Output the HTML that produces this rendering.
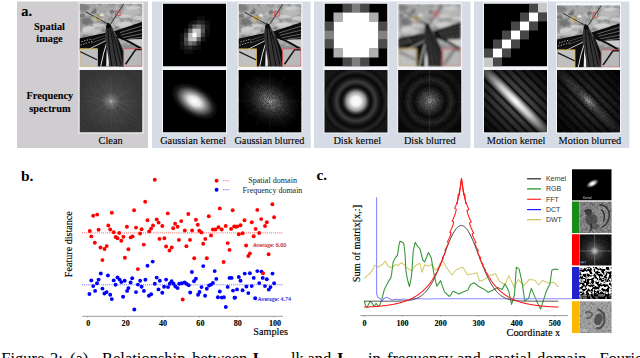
<!DOCTYPE html><html><head><meta charset="utf-8"><style>
html,body{margin:0;padding:0;background:#fff;width:640px;height:358px;overflow:hidden;position:relative}
svg.main{position:absolute;left:0;top:0}
</style></head><body>
<svg class="main" width="640" height="358" viewBox="0 0 640 358"><defs><filter id="noise" x="0" y="0" width="100%" height="100%">
<feTurbulence type="fractalNoise" baseFrequency="1.1" numOctaves="1" seed="4" result="n"/>
<feColorMatrix in="n" type="matrix" values="0 0 0 0 1  0 0 0 0 1  0 0 0 0 1  0 0 0 1.0 -0.35" result="a"/>
<feComposite in="a" in2="SourceGraphic" operator="in"/>
</filter><filter id="dnoise" x="0" y="0" width="100%" height="100%">
<feTurbulence type="fractalNoise" baseFrequency="1.6" numOctaves="1" seed="7" result="n"/>
<feColorMatrix in="n" type="matrix" values="0 0 0 0 0  0 0 0 0 0  0 0 0 0 0  0 0 0 1.1 -0.3"/>
</filter><filter id="blur04"><feGaussianBlur stdDeviation="0.4"/></filter><filter id="blur06"><feGaussianBlur stdDeviation="0.6"/></filter><filter id="blur08"><feGaussianBlur stdDeviation="0.8"/></filter><filter id="blur1"><feGaussianBlur stdDeviation="1.2"/></filter><filter id="tex" x="0" y="0" width="100%" height="100%">
<feTurbulence type="fractalNoise" baseFrequency="0.22" numOctaves="3" seed="9" result="n"/>
<feColorMatrix in="n" type="matrix" values="1.3 0 0 0 -0.12  1.3 0 0 0 -0.12  1.3 0 0 0 -0.12  0 0 0 0 1"/>
<feColorMatrix type="saturate" values="0"/>
</filter><filter id="blurI"><feGaussianBlur stdDeviation="1.3"/></filter><radialGradient id="gClean"><stop offset="0" stop-color="#c0c0c0"/><stop offset="0.07" stop-color="#808080"/><stop offset="0.3" stop-color="#4c4c4c"/><stop offset="1" stop-color="#3a3a3a"/></radialGradient><radialGradient id="gRayM" gradientUnits="userSpaceOnUse" cx="31.5" cy="31.25" r="34"><stop offset="0" stop-color="#fff"/><stop offset="0.5" stop-color="#777"/><stop offset="1" stop-color="#222"/></radialGradient><mask id="mRay" maskUnits="userSpaceOnUse" x="0" y="0" width="63" height="63"><rect width="63" height="63" fill="url(#gRayM)"/></mask><radialGradient id="gEll"><stop offset="0" stop-color="#fff"/><stop offset="0.25" stop-color="#e6e6e6"/><stop offset="0.55" stop-color="#707070"/><stop offset="0.8" stop-color="#1a1a1a"/><stop offset="1" stop-color="#000"/></radialGradient><radialGradient id="gEll2"><stop offset="0" stop-color="#c8c8c8"/><stop offset="0.1" stop-color="#8c8c8c"/><stop offset="0.4" stop-color="#444"/><stop offset="0.7" stop-color="#151515"/><stop offset="1" stop-color="#000"/></radialGradient><radialGradient id="gDisk" gradientUnits="userSpaceOnUse" cx="0" cy="0" r="36"><stop offset="0" stop-color="#fff"/><stop offset="0.13" stop-color="#f2f2f2"/><stop offset="0.26" stop-color="#9a9a9a"/><stop offset="0.35" stop-color="#2a2a2a"/><stop offset="0.41" stop-color="#080808"/><stop offset="0.54" stop-color="#3c3c3c"/><stop offset="0.64" stop-color="#181818"/><stop offset="0.72" stop-color="#080808"/><stop offset="0.83" stop-color="#262626"/><stop offset="0.93" stop-color="#0c0c0c"/><stop offset="1" stop-color="#161616"/></radialGradient><radialGradient id="gDisk2" gradientUnits="userSpaceOnUse" cx="0" cy="0" r="36"><stop offset="0" stop-color="#c8c8c8"/><stop offset="0.06" stop-color="#8a8a8a"/><stop offset="0.2" stop-color="#555"/><stop offset="0.34" stop-color="#2a2a2a"/><stop offset="0.44" stop-color="#0c0c0c"/><stop offset="0.6" stop-color="#303030"/><stop offset="0.74" stop-color="#0c0c0c"/><stop offset="0.88" stop-color="#1c1c1c"/><stop offset="1" stop-color="#0a0a0a"/></radialGradient><linearGradient id="gMot" gradientUnits="userSpaceOnUse" x1="-45" y1="0" x2="45" y2="0"><stop offset="0.0000" stop-color="rgb(22,22,22)"/><stop offset="0.0033" stop-color="rgb(23,23,23)"/><stop offset="0.0067" stop-color="rgb(24,24,24)"/><stop offset="0.0100" stop-color="rgb(25,25,25)"/><stop offset="0.0133" stop-color="rgb(25,25,25)"/><stop offset="0.0167" stop-color="rgb(25,25,25)"/><stop offset="0.0200" stop-color="rgb(24,24,24)"/><stop offset="0.0233" stop-color="rgb(23,23,23)"/><stop offset="0.0267" stop-color="rgb(22,22,22)"/><stop offset="0.0300" stop-color="rgb(20,20,20)"/><stop offset="0.0333" stop-color="rgb(18,18,18)"/><stop offset="0.0367" stop-color="rgb(15,15,15)"/><stop offset="0.0400" stop-color="rgb(11,11,11)"/><stop offset="0.0433" stop-color="rgb(7,7,7)"/><stop offset="0.0467" stop-color="rgb(0,0,0)"/><stop offset="0.0500" stop-color="rgb(7,7,7)"/><stop offset="0.0533" stop-color="rgb(12,12,12)"/><stop offset="0.0567" stop-color="rgb(16,16,16)"/><stop offset="0.0600" stop-color="rgb(20,20,20)"/><stop offset="0.0633" stop-color="rgb(23,23,23)"/><stop offset="0.0667" stop-color="rgb(26,26,26)"/><stop offset="0.0700" stop-color="rgb(29,29,29)"/><stop offset="0.0733" stop-color="rgb(31,31,31)"/><stop offset="0.0767" stop-color="rgb(33,33,33)"/><stop offset="0.0800" stop-color="rgb(34,34,34)"/><stop offset="0.0833" stop-color="rgb(35,35,35)"/><stop offset="0.0867" stop-color="rgb(35,35,35)"/><stop offset="0.0900" stop-color="rgb(35,35,35)"/><stop offset="0.0933" stop-color="rgb(35,35,35)"/><stop offset="0.0967" stop-color="rgb(34,34,34)"/><stop offset="0.1000" stop-color="rgb(32,32,32)"/><stop offset="0.1033" stop-color="rgb(30,30,30)"/><stop offset="0.1067" stop-color="rgb(27,27,27)"/><stop offset="0.1100" stop-color="rgb(23,23,23)"/><stop offset="0.1133" stop-color="rgb(19,19,19)"/><stop offset="0.1167" stop-color="rgb(14,14,14)"/><stop offset="0.1200" stop-color="rgb(7,7,7)"/><stop offset="0.1233" stop-color="rgb(4,4,4)"/><stop offset="0.1267" stop-color="rgb(12,12,12)"/><stop offset="0.1300" stop-color="rgb(18,18,18)"/><stop offset="0.1333" stop-color="rgb(24,24,24)"/><stop offset="0.1367" stop-color="rgb(28,28,28)"/><stop offset="0.1400" stop-color="rgb(33,33,33)"/><stop offset="0.1433" stop-color="rgb(36,36,36)"/><stop offset="0.1467" stop-color="rgb(39,39,39)"/><stop offset="0.1500" stop-color="rgb(42,42,42)"/><stop offset="0.1533" stop-color="rgb(44,44,44)"/><stop offset="0.1567" stop-color="rgb(45,45,45)"/><stop offset="0.1600" stop-color="rgb(46,46,46)"/><stop offset="0.1633" stop-color="rgb(46,46,46)"/><stop offset="0.1667" stop-color="rgb(46,46,46)"/><stop offset="0.1700" stop-color="rgb(45,45,45)"/><stop offset="0.1733" stop-color="rgb(43,43,43)"/><stop offset="0.1767" stop-color="rgb(40,40,40)"/><stop offset="0.1800" stop-color="rgb(37,37,37)"/><stop offset="0.1833" stop-color="rgb(33,33,33)"/><stop offset="0.1867" stop-color="rgb(28,28,28)"/><stop offset="0.1900" stop-color="rgb(22,22,22)"/><stop offset="0.1933" stop-color="rgb(15,15,15)"/><stop offset="0.1967" stop-color="rgb(6,6,6)"/><stop offset="0.2000" stop-color="rgb(9,9,9)"/><stop offset="0.2033" stop-color="rgb(18,18,18)"/><stop offset="0.2067" stop-color="rgb(26,26,26)"/><stop offset="0.2100" stop-color="rgb(32,32,32)"/><stop offset="0.2133" stop-color="rgb(37,37,37)"/><stop offset="0.2167" stop-color="rgb(42,42,42)"/><stop offset="0.2200" stop-color="rgb(47,47,47)"/><stop offset="0.2233" stop-color="rgb(50,50,50)"/><stop offset="0.2267" stop-color="rgb(53,53,53)"/><stop offset="0.2300" stop-color="rgb(55,55,55)"/><stop offset="0.2333" stop-color="rgb(56,56,56)"/><stop offset="0.2367" stop-color="rgb(57,57,57)"/><stop offset="0.2400" stop-color="rgb(57,57,57)"/><stop offset="0.2433" stop-color="rgb(56,56,56)"/><stop offset="0.2467" stop-color="rgb(54,54,54)"/><stop offset="0.2500" stop-color="rgb(51,51,51)"/><stop offset="0.2533" stop-color="rgb(48,48,48)"/><stop offset="0.2567" stop-color="rgb(44,44,44)"/><stop offset="0.2600" stop-color="rgb(38,38,38)"/><stop offset="0.2633" stop-color="rgb(32,32,32)"/><stop offset="0.2667" stop-color="rgb(24,24,24)"/><stop offset="0.2700" stop-color="rgb(15,15,15)"/><stop offset="0.2733" stop-color="rgb(0,0,0)"/><stop offset="0.2767" stop-color="rgb(15,15,15)"/><stop offset="0.2800" stop-color="rgb(25,25,25)"/><stop offset="0.2833" stop-color="rgb(33,33,33)"/><stop offset="0.2867" stop-color="rgb(41,41,41)"/><stop offset="0.2900" stop-color="rgb(47,47,47)"/><stop offset="0.2933" stop-color="rgb(53,53,53)"/><stop offset="0.2967" stop-color="rgb(57,57,57)"/><stop offset="0.3000" stop-color="rgb(61,61,61)"/><stop offset="0.3033" stop-color="rgb(64,64,64)"/><stop offset="0.3067" stop-color="rgb(66,66,66)"/><stop offset="0.3100" stop-color="rgb(67,67,67)"/><stop offset="0.3133" stop-color="rgb(68,68,68)"/><stop offset="0.3167" stop-color="rgb(67,67,67)"/><stop offset="0.3200" stop-color="rgb(66,66,66)"/><stop offset="0.3233" stop-color="rgb(63,63,63)"/><stop offset="0.3267" stop-color="rgb(60,60,60)"/><stop offset="0.3300" stop-color="rgb(55,55,55)"/><stop offset="0.3333" stop-color="rgb(49,49,49)"/><stop offset="0.3367" stop-color="rgb(43,43,43)"/><stop offset="0.3400" stop-color="rgb(35,35,35)"/><stop offset="0.3433" stop-color="rgb(25,25,25)"/><stop offset="0.3467" stop-color="rgb(13,13,13)"/><stop offset="0.3500" stop-color="rgb(8,8,8)"/><stop offset="0.3533" stop-color="rgb(22,22,22)"/><stop offset="0.3567" stop-color="rgb(33,33,33)"/><stop offset="0.3600" stop-color="rgb(42,42,42)"/><stop offset="0.3633" stop-color="rgb(50,50,50)"/><stop offset="0.3667" stop-color="rgb(57,57,57)"/><stop offset="0.3700" stop-color="rgb(63,63,63)"/><stop offset="0.3733" stop-color="rgb(68,68,68)"/><stop offset="0.3767" stop-color="rgb(72,72,72)"/><stop offset="0.3800" stop-color="rgb(75,75,75)"/><stop offset="0.3833" stop-color="rgb(77,77,77)"/><stop offset="0.3867" stop-color="rgb(78,78,78)"/><stop offset="0.3900" stop-color="rgb(78,78,78)"/><stop offset="0.3933" stop-color="rgb(77,77,77)"/><stop offset="0.3967" stop-color="rgb(75,75,75)"/><stop offset="0.4000" stop-color="rgb(72,72,72)"/><stop offset="0.4033" stop-color="rgb(67,67,67)"/><stop offset="0.4067" stop-color="rgb(61,61,61)"/><stop offset="0.4100" stop-color="rgb(55,55,55)"/><stop offset="0.4133" stop-color="rgb(46,46,46)"/><stop offset="0.4167" stop-color="rgb(37,37,37)"/><stop offset="0.4200" stop-color="rgb(25,25,25)"/><stop offset="0.4233" stop-color="rgb(9,9,9)"/><stop offset="0.4267" stop-color="rgb(15,15,15)"/><stop offset="0.4300" stop-color="rgb(34,34,34)"/><stop offset="0.4333" stop-color="rgb(52,52,52)"/><stop offset="0.4367" stop-color="rgb(68,68,68)"/><stop offset="0.4400" stop-color="rgb(85,85,85)"/><stop offset="0.4433" stop-color="rgb(100,100,100)"/><stop offset="0.4467" stop-color="rgb(115,115,115)"/><stop offset="0.4500" stop-color="rgb(130,130,130)"/><stop offset="0.4533" stop-color="rgb(143,143,143)"/><stop offset="0.4567" stop-color="rgb(157,157,157)"/><stop offset="0.4600" stop-color="rgb(169,169,169)"/><stop offset="0.4633" stop-color="rgb(181,181,181)"/><stop offset="0.4667" stop-color="rgb(192,192,192)"/><stop offset="0.4700" stop-color="rgb(202,202,202)"/><stop offset="0.4733" stop-color="rgb(212,212,212)"/><stop offset="0.4767" stop-color="rgb(221,221,221)"/><stop offset="0.4800" stop-color="rgb(229,229,229)"/><stop offset="0.4833" stop-color="rgb(236,236,236)"/><stop offset="0.4867" stop-color="rgb(242,242,242)"/><stop offset="0.4900" stop-color="rgb(247,247,247)"/><stop offset="0.4933" stop-color="rgb(251,251,251)"/><stop offset="0.4967" stop-color="rgb(254,254,254)"/><stop offset="0.5000" stop-color="rgb(255,255,255)"/><stop offset="0.5033" stop-color="rgb(254,254,254)"/><stop offset="0.5067" stop-color="rgb(251,251,251)"/><stop offset="0.5100" stop-color="rgb(247,247,247)"/><stop offset="0.5133" stop-color="rgb(242,242,242)"/><stop offset="0.5167" stop-color="rgb(236,236,236)"/><stop offset="0.5200" stop-color="rgb(229,229,229)"/><stop offset="0.5233" stop-color="rgb(221,221,221)"/><stop offset="0.5267" stop-color="rgb(212,212,212)"/><stop offset="0.5300" stop-color="rgb(202,202,202)"/><stop offset="0.5333" stop-color="rgb(192,192,192)"/><stop offset="0.5367" stop-color="rgb(181,181,181)"/><stop offset="0.5400" stop-color="rgb(169,169,169)"/><stop offset="0.5433" stop-color="rgb(157,157,157)"/><stop offset="0.5467" stop-color="rgb(143,143,143)"/><stop offset="0.5500" stop-color="rgb(130,130,130)"/><stop offset="0.5533" stop-color="rgb(115,115,115)"/><stop offset="0.5567" stop-color="rgb(100,100,100)"/><stop offset="0.5600" stop-color="rgb(85,85,85)"/><stop offset="0.5633" stop-color="rgb(68,68,68)"/><stop offset="0.5667" stop-color="rgb(52,52,52)"/><stop offset="0.5700" stop-color="rgb(34,34,34)"/><stop offset="0.5733" stop-color="rgb(15,15,15)"/><stop offset="0.5767" stop-color="rgb(9,9,9)"/><stop offset="0.5800" stop-color="rgb(25,25,25)"/><stop offset="0.5833" stop-color="rgb(37,37,37)"/><stop offset="0.5867" stop-color="rgb(46,46,46)"/><stop offset="0.5900" stop-color="rgb(55,55,55)"/><stop offset="0.5933" stop-color="rgb(61,61,61)"/><stop offset="0.5967" stop-color="rgb(67,67,67)"/><stop offset="0.6000" stop-color="rgb(72,72,72)"/><stop offset="0.6033" stop-color="rgb(75,75,75)"/><stop offset="0.6067" stop-color="rgb(77,77,77)"/><stop offset="0.6100" stop-color="rgb(78,78,78)"/><stop offset="0.6133" stop-color="rgb(78,78,78)"/><stop offset="0.6167" stop-color="rgb(77,77,77)"/><stop offset="0.6200" stop-color="rgb(75,75,75)"/><stop offset="0.6233" stop-color="rgb(72,72,72)"/><stop offset="0.6267" stop-color="rgb(68,68,68)"/><stop offset="0.6300" stop-color="rgb(63,63,63)"/><stop offset="0.6333" stop-color="rgb(57,57,57)"/><stop offset="0.6367" stop-color="rgb(50,50,50)"/><stop offset="0.6400" stop-color="rgb(42,42,42)"/><stop offset="0.6433" stop-color="rgb(33,33,33)"/><stop offset="0.6467" stop-color="rgb(22,22,22)"/><stop offset="0.6500" stop-color="rgb(8,8,8)"/><stop offset="0.6533" stop-color="rgb(13,13,13)"/><stop offset="0.6567" stop-color="rgb(25,25,25)"/><stop offset="0.6600" stop-color="rgb(35,35,35)"/><stop offset="0.6633" stop-color="rgb(43,43,43)"/><stop offset="0.6667" stop-color="rgb(49,49,49)"/><stop offset="0.6700" stop-color="rgb(55,55,55)"/><stop offset="0.6733" stop-color="rgb(60,60,60)"/><stop offset="0.6767" stop-color="rgb(63,63,63)"/><stop offset="0.6800" stop-color="rgb(66,66,66)"/><stop offset="0.6833" stop-color="rgb(67,67,67)"/><stop offset="0.6867" stop-color="rgb(68,68,68)"/><stop offset="0.6900" stop-color="rgb(67,67,67)"/><stop offset="0.6933" stop-color="rgb(66,66,66)"/><stop offset="0.6967" stop-color="rgb(64,64,64)"/><stop offset="0.7000" stop-color="rgb(61,61,61)"/><stop offset="0.7033" stop-color="rgb(57,57,57)"/><stop offset="0.7067" stop-color="rgb(53,53,53)"/><stop offset="0.7100" stop-color="rgb(47,47,47)"/><stop offset="0.7133" stop-color="rgb(41,41,41)"/><stop offset="0.7167" stop-color="rgb(33,33,33)"/><stop offset="0.7200" stop-color="rgb(25,25,25)"/><stop offset="0.7233" stop-color="rgb(15,15,15)"/><stop offset="0.7267" stop-color="rgb(0,0,0)"/><stop offset="0.7300" stop-color="rgb(15,15,15)"/><stop offset="0.7333" stop-color="rgb(24,24,24)"/><stop offset="0.7367" stop-color="rgb(32,32,32)"/><stop offset="0.7400" stop-color="rgb(38,38,38)"/><stop offset="0.7433" stop-color="rgb(44,44,44)"/><stop offset="0.7467" stop-color="rgb(48,48,48)"/><stop offset="0.7500" stop-color="rgb(51,51,51)"/><stop offset="0.7533" stop-color="rgb(54,54,54)"/><stop offset="0.7567" stop-color="rgb(56,56,56)"/><stop offset="0.7600" stop-color="rgb(57,57,57)"/><stop offset="0.7633" stop-color="rgb(57,57,57)"/><stop offset="0.7667" stop-color="rgb(56,56,56)"/><stop offset="0.7700" stop-color="rgb(55,55,55)"/><stop offset="0.7733" stop-color="rgb(53,53,53)"/><stop offset="0.7767" stop-color="rgb(50,50,50)"/><stop offset="0.7800" stop-color="rgb(47,47,47)"/><stop offset="0.7833" stop-color="rgb(42,42,42)"/><stop offset="0.7867" stop-color="rgb(37,37,37)"/><stop offset="0.7900" stop-color="rgb(32,32,32)"/><stop offset="0.7933" stop-color="rgb(26,26,26)"/><stop offset="0.7967" stop-color="rgb(18,18,18)"/><stop offset="0.8000" stop-color="rgb(9,9,9)"/><stop offset="0.8033" stop-color="rgb(6,6,6)"/><stop offset="0.8067" stop-color="rgb(15,15,15)"/><stop offset="0.8100" stop-color="rgb(22,22,22)"/><stop offset="0.8133" stop-color="rgb(28,28,28)"/><stop offset="0.8167" stop-color="rgb(33,33,33)"/><stop offset="0.8200" stop-color="rgb(37,37,37)"/><stop offset="0.8233" stop-color="rgb(40,40,40)"/><stop offset="0.8267" stop-color="rgb(43,43,43)"/><stop offset="0.8300" stop-color="rgb(45,45,45)"/><stop offset="0.8333" stop-color="rgb(46,46,46)"/><stop offset="0.8367" stop-color="rgb(46,46,46)"/><stop offset="0.8400" stop-color="rgb(46,46,46)"/><stop offset="0.8433" stop-color="rgb(45,45,45)"/><stop offset="0.8467" stop-color="rgb(44,44,44)"/><stop offset="0.8500" stop-color="rgb(42,42,42)"/><stop offset="0.8533" stop-color="rgb(39,39,39)"/><stop offset="0.8567" stop-color="rgb(36,36,36)"/><stop offset="0.8600" stop-color="rgb(33,33,33)"/><stop offset="0.8633" stop-color="rgb(28,28,28)"/><stop offset="0.8667" stop-color="rgb(24,24,24)"/><stop offset="0.8700" stop-color="rgb(18,18,18)"/><stop offset="0.8733" stop-color="rgb(12,12,12)"/><stop offset="0.8767" stop-color="rgb(4,4,4)"/><stop offset="0.8800" stop-color="rgb(7,7,7)"/><stop offset="0.8833" stop-color="rgb(14,14,14)"/><stop offset="0.8867" stop-color="rgb(19,19,19)"/><stop offset="0.8900" stop-color="rgb(23,23,23)"/><stop offset="0.8933" stop-color="rgb(27,27,27)"/><stop offset="0.8967" stop-color="rgb(30,30,30)"/><stop offset="0.9000" stop-color="rgb(32,32,32)"/><stop offset="0.9033" stop-color="rgb(34,34,34)"/><stop offset="0.9067" stop-color="rgb(35,35,35)"/><stop offset="0.9100" stop-color="rgb(35,35,35)"/><stop offset="0.9133" stop-color="rgb(35,35,35)"/><stop offset="0.9167" stop-color="rgb(35,35,35)"/><stop offset="0.9200" stop-color="rgb(34,34,34)"/><stop offset="0.9233" stop-color="rgb(33,33,33)"/><stop offset="0.9267" stop-color="rgb(31,31,31)"/><stop offset="0.9300" stop-color="rgb(29,29,29)"/><stop offset="0.9333" stop-color="rgb(26,26,26)"/><stop offset="0.9367" stop-color="rgb(23,23,23)"/><stop offset="0.9400" stop-color="rgb(20,20,20)"/><stop offset="0.9433" stop-color="rgb(16,16,16)"/><stop offset="0.9467" stop-color="rgb(12,12,12)"/><stop offset="0.9500" stop-color="rgb(7,7,7)"/><stop offset="0.9533" stop-color="rgb(0,0,0)"/><stop offset="0.9567" stop-color="rgb(7,7,7)"/><stop offset="0.9600" stop-color="rgb(11,11,11)"/><stop offset="0.9633" stop-color="rgb(15,15,15)"/><stop offset="0.9667" stop-color="rgb(18,18,18)"/><stop offset="0.9700" stop-color="rgb(20,20,20)"/><stop offset="0.9733" stop-color="rgb(22,22,22)"/><stop offset="0.9767" stop-color="rgb(23,23,23)"/><stop offset="0.9800" stop-color="rgb(24,24,24)"/><stop offset="0.9833" stop-color="rgb(25,25,25)"/><stop offset="0.9867" stop-color="rgb(25,25,25)"/><stop offset="0.9900" stop-color="rgb(25,25,25)"/><stop offset="0.9933" stop-color="rgb(24,24,24)"/><stop offset="0.9967" stop-color="rgb(23,23,23)"/><stop offset="1.0000" stop-color="rgb(22,22,22)"/></linearGradient><radialGradient id="gMask" gradientUnits="userSpaceOnUse" cx="0" cy="0" r="46"><stop offset="0" stop-color="#fff"/><stop offset="0.45" stop-color="#c8c8c8"/><stop offset="1" stop-color="#383838"/></radialGradient><mask id="mMot" maskUnits="userSpaceOnUse" x="-60" y="-60" width="120" height="120"><rect x="-60" y="-60" width="120" height="120" fill="url(#gMask)"/></mask><linearGradient id="gMot2" gradientUnits="userSpaceOnUse" x1="-45" y1="0" x2="45" y2="0"><stop offset="0.0000" stop-color="rgb(16,16,16)"/><stop offset="0.0033" stop-color="rgb(17,17,17)"/><stop offset="0.0067" stop-color="rgb(18,18,18)"/><stop offset="0.0100" stop-color="rgb(18,18,18)"/><stop offset="0.0133" stop-color="rgb(18,18,18)"/><stop offset="0.0167" stop-color="rgb(18,18,18)"/><stop offset="0.0200" stop-color="rgb(18,18,18)"/><stop offset="0.0233" stop-color="rgb(17,17,17)"/><stop offset="0.0267" stop-color="rgb(16,16,16)"/><stop offset="0.0300" stop-color="rgb(15,15,15)"/><stop offset="0.0333" stop-color="rgb(13,13,13)"/><stop offset="0.0367" stop-color="rgb(11,11,11)"/><stop offset="0.0400" stop-color="rgb(8,8,8)"/><stop offset="0.0433" stop-color="rgb(5,5,5)"/><stop offset="0.0467" stop-color="rgb(0,0,0)"/><stop offset="0.0500" stop-color="rgb(5,5,5)"/><stop offset="0.0533" stop-color="rgb(9,9,9)"/><stop offset="0.0567" stop-color="rgb(12,12,12)"/><stop offset="0.0600" stop-color="rgb(15,15,15)"/><stop offset="0.0633" stop-color="rgb(17,17,17)"/><stop offset="0.0667" stop-color="rgb(19,19,19)"/><stop offset="0.0700" stop-color="rgb(21,21,21)"/><stop offset="0.0733" stop-color="rgb(23,23,23)"/><stop offset="0.0767" stop-color="rgb(24,24,24)"/><stop offset="0.0800" stop-color="rgb(25,25,25)"/><stop offset="0.0833" stop-color="rgb(26,26,26)"/><stop offset="0.0867" stop-color="rgb(26,26,26)"/><stop offset="0.0900" stop-color="rgb(26,26,26)"/><stop offset="0.0933" stop-color="rgb(25,25,25)"/><stop offset="0.0967" stop-color="rgb(25,25,25)"/><stop offset="0.1000" stop-color="rgb(23,23,23)"/><stop offset="0.1033" stop-color="rgb(22,22,22)"/><stop offset="0.1067" stop-color="rgb(20,20,20)"/><stop offset="0.1100" stop-color="rgb(17,17,17)"/><stop offset="0.1133" stop-color="rgb(14,14,14)"/><stop offset="0.1167" stop-color="rgb(10,10,10)"/><stop offset="0.1200" stop-color="rgb(5,5,5)"/><stop offset="0.1233" stop-color="rgb(3,3,3)"/><stop offset="0.1267" stop-color="rgb(9,9,9)"/><stop offset="0.1300" stop-color="rgb(13,13,13)"/><stop offset="0.1333" stop-color="rgb(17,17,17)"/><stop offset="0.1367" stop-color="rgb(21,21,21)"/><stop offset="0.1400" stop-color="rgb(24,24,24)"/><stop offset="0.1433" stop-color="rgb(27,27,27)"/><stop offset="0.1467" stop-color="rgb(29,29,29)"/><stop offset="0.1500" stop-color="rgb(31,31,31)"/><stop offset="0.1533" stop-color="rgb(32,32,32)"/><stop offset="0.1567" stop-color="rgb(33,33,33)"/><stop offset="0.1600" stop-color="rgb(34,34,34)"/><stop offset="0.1633" stop-color="rgb(34,34,34)"/><stop offset="0.1667" stop-color="rgb(34,34,34)"/><stop offset="0.1700" stop-color="rgb(33,33,33)"/><stop offset="0.1733" stop-color="rgb(31,31,31)"/><stop offset="0.1767" stop-color="rgb(30,30,30)"/><stop offset="0.1800" stop-color="rgb(27,27,27)"/><stop offset="0.1833" stop-color="rgb(24,24,24)"/><stop offset="0.1867" stop-color="rgb(21,21,21)"/><stop offset="0.1900" stop-color="rgb(16,16,16)"/><stop offset="0.1933" stop-color="rgb(11,11,11)"/><stop offset="0.1967" stop-color="rgb(4,4,4)"/><stop offset="0.2000" stop-color="rgb(7,7,7)"/><stop offset="0.2033" stop-color="rgb(13,13,13)"/><stop offset="0.2067" stop-color="rgb(19,19,19)"/><stop offset="0.2100" stop-color="rgb(23,23,23)"/><stop offset="0.2133" stop-color="rgb(27,27,27)"/><stop offset="0.2167" stop-color="rgb(31,31,31)"/><stop offset="0.2200" stop-color="rgb(34,34,34)"/><stop offset="0.2233" stop-color="rgb(37,37,37)"/><stop offset="0.2267" stop-color="rgb(39,39,39)"/><stop offset="0.2300" stop-color="rgb(40,40,40)"/><stop offset="0.2333" stop-color="rgb(41,41,41)"/><stop offset="0.2367" stop-color="rgb(42,42,42)"/><stop offset="0.2400" stop-color="rgb(42,42,42)"/><stop offset="0.2433" stop-color="rgb(41,41,41)"/><stop offset="0.2467" stop-color="rgb(40,40,40)"/><stop offset="0.2500" stop-color="rgb(38,38,38)"/><stop offset="0.2533" stop-color="rgb(35,35,35)"/><stop offset="0.2567" stop-color="rgb(32,32,32)"/><stop offset="0.2600" stop-color="rgb(28,28,28)"/><stop offset="0.2633" stop-color="rgb(23,23,23)"/><stop offset="0.2667" stop-color="rgb(18,18,18)"/><stop offset="0.2700" stop-color="rgb(11,11,11)"/><stop offset="0.2733" stop-color="rgb(0,0,0)"/><stop offset="0.2767" stop-color="rgb(11,11,11)"/><stop offset="0.2800" stop-color="rgb(18,18,18)"/><stop offset="0.2833" stop-color="rgb(25,25,25)"/><stop offset="0.2867" stop-color="rgb(30,30,30)"/><stop offset="0.2900" stop-color="rgb(35,35,35)"/><stop offset="0.2933" stop-color="rgb(39,39,39)"/><stop offset="0.2967" stop-color="rgb(42,42,42)"/><stop offset="0.3000" stop-color="rgb(45,45,45)"/><stop offset="0.3033" stop-color="rgb(47,47,47)"/><stop offset="0.3067" stop-color="rgb(49,49,49)"/><stop offset="0.3100" stop-color="rgb(50,50,50)"/><stop offset="0.3133" stop-color="rgb(50,50,50)"/><stop offset="0.3167" stop-color="rgb(49,49,49)"/><stop offset="0.3200" stop-color="rgb(48,48,48)"/><stop offset="0.3233" stop-color="rgb(46,46,46)"/><stop offset="0.3267" stop-color="rgb(44,44,44)"/><stop offset="0.3300" stop-color="rgb(40,40,40)"/><stop offset="0.3333" stop-color="rgb(36,36,36)"/><stop offset="0.3367" stop-color="rgb(31,31,31)"/><stop offset="0.3400" stop-color="rgb(26,26,26)"/><stop offset="0.3433" stop-color="rgb(19,19,19)"/><stop offset="0.3467" stop-color="rgb(10,10,10)"/><stop offset="0.3500" stop-color="rgb(6,6,6)"/><stop offset="0.3533" stop-color="rgb(16,16,16)"/><stop offset="0.3567" stop-color="rgb(24,24,24)"/><stop offset="0.3600" stop-color="rgb(31,31,31)"/><stop offset="0.3633" stop-color="rgb(37,37,37)"/><stop offset="0.3667" stop-color="rgb(42,42,42)"/><stop offset="0.3700" stop-color="rgb(46,46,46)"/><stop offset="0.3733" stop-color="rgb(50,50,50)"/><stop offset="0.3767" stop-color="rgb(53,53,53)"/><stop offset="0.3800" stop-color="rgb(55,55,55)"/><stop offset="0.3833" stop-color="rgb(57,57,57)"/><stop offset="0.3867" stop-color="rgb(58,58,58)"/><stop offset="0.3900" stop-color="rgb(58,58,58)"/><stop offset="0.3933" stop-color="rgb(57,57,57)"/><stop offset="0.3967" stop-color="rgb(55,55,55)"/><stop offset="0.4000" stop-color="rgb(53,53,53)"/><stop offset="0.4033" stop-color="rgb(49,49,49)"/><stop offset="0.4067" stop-color="rgb(45,45,45)"/><stop offset="0.4100" stop-color="rgb(40,40,40)"/><stop offset="0.4133" stop-color="rgb(34,34,34)"/><stop offset="0.4167" stop-color="rgb(27,27,27)"/><stop offset="0.4200" stop-color="rgb(18,18,18)"/><stop offset="0.4233" stop-color="rgb(7,7,7)"/><stop offset="0.4267" stop-color="rgb(9,9,9)"/><stop offset="0.4300" stop-color="rgb(19,19,19)"/><stop offset="0.4333" stop-color="rgb(28,28,28)"/><stop offset="0.4367" stop-color="rgb(36,36,36)"/><stop offset="0.4400" stop-color="rgb(43,43,43)"/><stop offset="0.4433" stop-color="rgb(49,49,49)"/><stop offset="0.4467" stop-color="rgb(55,55,55)"/><stop offset="0.4500" stop-color="rgb(60,60,60)"/><stop offset="0.4533" stop-color="rgb(64,64,64)"/><stop offset="0.4567" stop-color="rgb(68,68,68)"/><stop offset="0.4600" stop-color="rgb(72,72,72)"/><stop offset="0.4633" stop-color="rgb(75,75,75)"/><stop offset="0.4667" stop-color="rgb(78,78,78)"/><stop offset="0.4700" stop-color="rgb(80,80,80)"/><stop offset="0.4733" stop-color="rgb(83,83,83)"/><stop offset="0.4767" stop-color="rgb(85,85,85)"/><stop offset="0.4800" stop-color="rgb(87,87,87)"/><stop offset="0.4833" stop-color="rgb(89,89,89)"/><stop offset="0.4867" stop-color="rgb(91,91,91)"/><stop offset="0.4900" stop-color="rgb(92,92,92)"/><stop offset="0.4933" stop-color="rgb(93,93,93)"/><stop offset="0.4967" stop-color="rgb(94,94,94)"/><stop offset="0.5000" stop-color="rgb(95,95,95)"/><stop offset="0.5033" stop-color="rgb(94,94,94)"/><stop offset="0.5067" stop-color="rgb(93,93,93)"/><stop offset="0.5100" stop-color="rgb(92,92,92)"/><stop offset="0.5133" stop-color="rgb(91,91,91)"/><stop offset="0.5167" stop-color="rgb(89,89,89)"/><stop offset="0.5200" stop-color="rgb(87,87,87)"/><stop offset="0.5233" stop-color="rgb(85,85,85)"/><stop offset="0.5267" stop-color="rgb(83,83,83)"/><stop offset="0.5300" stop-color="rgb(80,80,80)"/><stop offset="0.5333" stop-color="rgb(78,78,78)"/><stop offset="0.5367" stop-color="rgb(75,75,75)"/><stop offset="0.5400" stop-color="rgb(72,72,72)"/><stop offset="0.5433" stop-color="rgb(68,68,68)"/><stop offset="0.5467" stop-color="rgb(64,64,64)"/><stop offset="0.5500" stop-color="rgb(60,60,60)"/><stop offset="0.5533" stop-color="rgb(55,55,55)"/><stop offset="0.5567" stop-color="rgb(49,49,49)"/><stop offset="0.5600" stop-color="rgb(43,43,43)"/><stop offset="0.5633" stop-color="rgb(36,36,36)"/><stop offset="0.5667" stop-color="rgb(28,28,28)"/><stop offset="0.5700" stop-color="rgb(19,19,19)"/><stop offset="0.5733" stop-color="rgb(9,9,9)"/><stop offset="0.5767" stop-color="rgb(7,7,7)"/><stop offset="0.5800" stop-color="rgb(18,18,18)"/><stop offset="0.5833" stop-color="rgb(27,27,27)"/><stop offset="0.5867" stop-color="rgb(34,34,34)"/><stop offset="0.5900" stop-color="rgb(40,40,40)"/><stop offset="0.5933" stop-color="rgb(45,45,45)"/><stop offset="0.5967" stop-color="rgb(49,49,49)"/><stop offset="0.6000" stop-color="rgb(53,53,53)"/><stop offset="0.6033" stop-color="rgb(55,55,55)"/><stop offset="0.6067" stop-color="rgb(57,57,57)"/><stop offset="0.6100" stop-color="rgb(58,58,58)"/><stop offset="0.6133" stop-color="rgb(58,58,58)"/><stop offset="0.6167" stop-color="rgb(57,57,57)"/><stop offset="0.6200" stop-color="rgb(55,55,55)"/><stop offset="0.6233" stop-color="rgb(53,53,53)"/><stop offset="0.6267" stop-color="rgb(50,50,50)"/><stop offset="0.6300" stop-color="rgb(46,46,46)"/><stop offset="0.6333" stop-color="rgb(42,42,42)"/><stop offset="0.6367" stop-color="rgb(37,37,37)"/><stop offset="0.6400" stop-color="rgb(31,31,31)"/><stop offset="0.6433" stop-color="rgb(24,24,24)"/><stop offset="0.6467" stop-color="rgb(16,16,16)"/><stop offset="0.6500" stop-color="rgb(6,6,6)"/><stop offset="0.6533" stop-color="rgb(10,10,10)"/><stop offset="0.6567" stop-color="rgb(19,19,19)"/><stop offset="0.6600" stop-color="rgb(26,26,26)"/><stop offset="0.6633" stop-color="rgb(31,31,31)"/><stop offset="0.6667" stop-color="rgb(36,36,36)"/><stop offset="0.6700" stop-color="rgb(40,40,40)"/><stop offset="0.6733" stop-color="rgb(44,44,44)"/><stop offset="0.6767" stop-color="rgb(46,46,46)"/><stop offset="0.6800" stop-color="rgb(48,48,48)"/><stop offset="0.6833" stop-color="rgb(49,49,49)"/><stop offset="0.6867" stop-color="rgb(50,50,50)"/><stop offset="0.6900" stop-color="rgb(50,50,50)"/><stop offset="0.6933" stop-color="rgb(49,49,49)"/><stop offset="0.6967" stop-color="rgb(47,47,47)"/><stop offset="0.7000" stop-color="rgb(45,45,45)"/><stop offset="0.7033" stop-color="rgb(42,42,42)"/><stop offset="0.7067" stop-color="rgb(39,39,39)"/><stop offset="0.7100" stop-color="rgb(35,35,35)"/><stop offset="0.7133" stop-color="rgb(30,30,30)"/><stop offset="0.7167" stop-color="rgb(25,25,25)"/><stop offset="0.7200" stop-color="rgb(18,18,18)"/><stop offset="0.7233" stop-color="rgb(11,11,11)"/><stop offset="0.7267" stop-color="rgb(0,0,0)"/><stop offset="0.7300" stop-color="rgb(11,11,11)"/><stop offset="0.7333" stop-color="rgb(18,18,18)"/><stop offset="0.7367" stop-color="rgb(23,23,23)"/><stop offset="0.7400" stop-color="rgb(28,28,28)"/><stop offset="0.7433" stop-color="rgb(32,32,32)"/><stop offset="0.7467" stop-color="rgb(35,35,35)"/><stop offset="0.7500" stop-color="rgb(38,38,38)"/><stop offset="0.7533" stop-color="rgb(40,40,40)"/><stop offset="0.7567" stop-color="rgb(41,41,41)"/><stop offset="0.7600" stop-color="rgb(42,42,42)"/><stop offset="0.7633" stop-color="rgb(42,42,42)"/><stop offset="0.7667" stop-color="rgb(41,41,41)"/><stop offset="0.7700" stop-color="rgb(40,40,40)"/><stop offset="0.7733" stop-color="rgb(39,39,39)"/><stop offset="0.7767" stop-color="rgb(37,37,37)"/><stop offset="0.7800" stop-color="rgb(34,34,34)"/><stop offset="0.7833" stop-color="rgb(31,31,31)"/><stop offset="0.7867" stop-color="rgb(27,27,27)"/><stop offset="0.7900" stop-color="rgb(23,23,23)"/><stop offset="0.7933" stop-color="rgb(19,19,19)"/><stop offset="0.7967" stop-color="rgb(13,13,13)"/><stop offset="0.8000" stop-color="rgb(7,7,7)"/><stop offset="0.8033" stop-color="rgb(4,4,4)"/><stop offset="0.8067" stop-color="rgb(11,11,11)"/><stop offset="0.8100" stop-color="rgb(16,16,16)"/><stop offset="0.8133" stop-color="rgb(21,21,21)"/><stop offset="0.8167" stop-color="rgb(24,24,24)"/><stop offset="0.8200" stop-color="rgb(27,27,27)"/><stop offset="0.8233" stop-color="rgb(30,30,30)"/><stop offset="0.8267" stop-color="rgb(31,31,31)"/><stop offset="0.8300" stop-color="rgb(33,33,33)"/><stop offset="0.8333" stop-color="rgb(34,34,34)"/><stop offset="0.8367" stop-color="rgb(34,34,34)"/><stop offset="0.8400" stop-color="rgb(34,34,34)"/><stop offset="0.8433" stop-color="rgb(33,33,33)"/><stop offset="0.8467" stop-color="rgb(32,32,32)"/><stop offset="0.8500" stop-color="rgb(31,31,31)"/><stop offset="0.8533" stop-color="rgb(29,29,29)"/><stop offset="0.8567" stop-color="rgb(27,27,27)"/><stop offset="0.8600" stop-color="rgb(24,24,24)"/><stop offset="0.8633" stop-color="rgb(21,21,21)"/><stop offset="0.8667" stop-color="rgb(17,17,17)"/><stop offset="0.8700" stop-color="rgb(13,13,13)"/><stop offset="0.8733" stop-color="rgb(9,9,9)"/><stop offset="0.8767" stop-color="rgb(3,3,3)"/><stop offset="0.8800" stop-color="rgb(5,5,5)"/><stop offset="0.8833" stop-color="rgb(10,10,10)"/><stop offset="0.8867" stop-color="rgb(14,14,14)"/><stop offset="0.8900" stop-color="rgb(17,17,17)"/><stop offset="0.8933" stop-color="rgb(20,20,20)"/><stop offset="0.8967" stop-color="rgb(22,22,22)"/><stop offset="0.9000" stop-color="rgb(23,23,23)"/><stop offset="0.9033" stop-color="rgb(25,25,25)"/><stop offset="0.9067" stop-color="rgb(25,25,25)"/><stop offset="0.9100" stop-color="rgb(26,26,26)"/><stop offset="0.9133" stop-color="rgb(26,26,26)"/><stop offset="0.9167" stop-color="rgb(26,26,26)"/><stop offset="0.9200" stop-color="rgb(25,25,25)"/><stop offset="0.9233" stop-color="rgb(24,24,24)"/><stop offset="0.9267" stop-color="rgb(23,23,23)"/><stop offset="0.9300" stop-color="rgb(21,21,21)"/><stop offset="0.9333" stop-color="rgb(19,19,19)"/><stop offset="0.9367" stop-color="rgb(17,17,17)"/><stop offset="0.9400" stop-color="rgb(15,15,15)"/><stop offset="0.9433" stop-color="rgb(12,12,12)"/><stop offset="0.9467" stop-color="rgb(9,9,9)"/><stop offset="0.9500" stop-color="rgb(5,5,5)"/><stop offset="0.9533" stop-color="rgb(0,0,0)"/><stop offset="0.9567" stop-color="rgb(5,5,5)"/><stop offset="0.9600" stop-color="rgb(8,8,8)"/><stop offset="0.9633" stop-color="rgb(11,11,11)"/><stop offset="0.9667" stop-color="rgb(13,13,13)"/><stop offset="0.9700" stop-color="rgb(15,15,15)"/><stop offset="0.9733" stop-color="rgb(16,16,16)"/><stop offset="0.9767" stop-color="rgb(17,17,17)"/><stop offset="0.9800" stop-color="rgb(18,18,18)"/><stop offset="0.9833" stop-color="rgb(18,18,18)"/><stop offset="0.9867" stop-color="rgb(18,18,18)"/><stop offset="0.9900" stop-color="rgb(18,18,18)"/><stop offset="0.9933" stop-color="rgb(18,18,18)"/><stop offset="0.9967" stop-color="rgb(17,17,17)"/><stop offset="1.0000" stop-color="rgb(16,16,16)"/></linearGradient><radialGradient id="gMC"><stop offset="0" stop-color="#c8c8c8" stop-opacity="0.9"/><stop offset="1" stop-color="#000" stop-opacity="0"/></radialGradient><radialGradient id="gK"><stop offset="0" stop-color="#fff"/><stop offset="0.3" stop-color="#ddd"/><stop offset="0.7" stop-color="#333"/><stop offset="1" stop-color="#000" stop-opacity="0"/></radialGradient><filter id="sqtex" x="0" y="0" width="100%" height="100%">
<feTurbulence type="fractalNoise" baseFrequency="0.45" numOctaves="2" seed="21" result="n"/>
<feColorMatrix in="n" type="matrix" values="1.6 0 0 0 -0.3  1.6 0 0 0 -0.3  1.6 0 0 0 -0.3  0 0 0 0 1"/>
<feColorMatrix type="saturate" values="0"/>
</filter>
<filter id="dcttex" x="0" y="0" width="100%" height="100%">
<feTurbulence type="fractalNoise" baseFrequency="0.4" numOctaves="2" seed="5" result="n"/>
<feColorMatrix in="n" type="matrix" values="5 0 0 0 -2.3  5 0 0 0 -2.3  5 0 0 0 -2.3  0 0 0 0 1"/>
<feColorMatrix type="saturate" values="0"/>
</filter><radialGradient id="gF" gradientUnits="userSpaceOnUse" cx="15.3" cy="16.8" r="18"><stop offset="0" stop-color="#fff"/><stop offset="0.06" stop-color="#bbb"/><stop offset="0.25" stop-color="#4a4a4a"/><stop offset="0.6" stop-color="#1a1a1a"/><stop offset="1" stop-color="#080808"/></radialGradient></defs><rect x="17" y="1.5" width="131" height="146.5" fill="#cfcdcf"/><rect x="152" y="1.5" width="158.7" height="146.5" fill="#d5dce6"/><rect x="314" y="1.5" width="156.5" height="146.5" fill="#d5dce6"/><rect x="474" y="1.5" width="155.29999999999995" height="146.5" fill="#d5dce6"/><rect x="78.5" y="2.5" width="65" height="131.0" fill="#f2f4f7"/><rect x="162" y="2.5" width="65" height="131.0" fill="#f2f4f7"/><rect x="237.5" y="2.5" width="65" height="131.0" fill="#f2f4f7"/><rect x="323.5" y="2.5" width="65" height="131.0" fill="#f2f4f7"/><rect x="397.2" y="2.5" width="65" height="131.0" fill="#f2f4f7"/><rect x="483" y="2.5" width="65" height="131.0" fill="#f2f4f7"/><rect x="556" y="2.5" width="65" height="131.0" fill="#f2f4f7"/><svg x="79.5" y="3.5" width="63" height="63.2" viewBox="0 0 63 63.2" overflow="hidden"><g><svg x="0" y="0" width="63" height="63.2" viewBox="0 0 64 64" preserveAspectRatio="none">
<rect width="64" height="64" fill="#8e8e8e"/>
<rect width="64" height="42" filter="url(#tex)" opacity="0.45"/>
<g filter="url(#blur1)" opacity="0.9">
<ellipse cx="7" cy="18" rx="6" ry="4" fill="#707070"/>
<ellipse cx="4" cy="4" rx="6" ry="4" fill="#7a7a7a"/>
<ellipse cx="52" cy="9" rx="9" ry="6" fill="#bcbcbc"/>
<ellipse cx="25" cy="5" rx="7" ry="4" fill="#a8a8a8"/>
<ellipse cx="12" cy="28" rx="9" ry="3" fill="#c8c8c8"/>
<ellipse cx="48" cy="22" rx="8" ry="3" fill="#d0d0d0"/>
<ellipse cx="58" cy="28" rx="5" ry="2" fill="#6a6a6a"/>
<ellipse cx="38" cy="18" rx="4" ry="3" fill="#c0c0c0"/>
</g>
<g fill="#d4d4d4" opacity="0.75" filter="url(#blur06)">
<path d="M2,26 Q8,21 16,24 Q12,28 4,29 Z"/>
<path d="M14,21 Q20,18 26,22 Q21,24 15,24 Z"/>
<path d="M40,13 Q46,9 53,13 Q48,15 42,15 Z"/>
<path d="M47,4 Q54,1 62,4 Q56,7 49,6 Z"/>
<path d="M36,21 Q44,17 53,20 Q46,23 38,23 Z"/>
<path d="M55,14 Q60,11 64,13 L64,17 Q59,17 55,16 Z"/>
</g>
<g fill="#5a5a5a" opacity="0.6" filter="url(#blur06)">
<ellipse cx="3" cy="12" rx="3" ry="2"/>
<ellipse cx="14" cy="9" rx="3" ry="1.5"/>
<ellipse cx="33" cy="8" rx="2.5" ry="2"/>
<ellipse cx="58" cy="22" rx="4" ry="1.5"/>
</g>
<line x1="6.2" y1="8.4" x2="28.5" y2="20.5" stroke="#1a1a1a" stroke-width="0.8"/>
<line x1="44.9" y1="0.4" x2="31.5" y2="21" stroke="#1a1a1a" stroke-width="0.8"/>
<ellipse cx="22.7" cy="11.6" rx="2" ry="1.3" fill="#eee" opacity="0.8"/>
<rect x="15.8" y="12.6" width="5" height="4.2" rx="1.2" fill="none" stroke="#d8a828" stroke-width="0.8"/>
<rect x="36.6" y="7.7" width="4.6" height="4.6" fill="none" stroke="#e04848" stroke-width="0.8"/>
<polygon points="35,28 63.5,18.8 63.5,36 43,36.5 38,33" fill="#0a0a0a"/>
<g stroke="#c4c4c4" stroke-width="0.5">
<line x1="41" y1="29.5" x2="64" y2="22.5"/>
<line x1="42" y1="32" x2="64" y2="26.5"/>
<line x1="44" y1="34.5" x2="64" y2="30.5"/>
<line x1="50" y1="35.8" x2="64" y2="34"/>
</g>
<polygon points="44,37 63.5,36.2 63.5,43.5 57,42" fill="#cdcdcd"/>
<path d="M38,33.5 Q50,37.5 62,45.5" fill="none" stroke="#0a0a0a" stroke-width="2"/>
<polygon points="-1,47 25,37 30,36 30.7,64 18.3,64 18.3,45.8" fill="#0c0c0c"/>
<polygon points="-1,35.5 27,29.5 29.5,33.5 25,37.5 -1,47" fill="#0a0a0a"/>
<g stroke="#d8d8d8" stroke-width="0.8" stroke-dasharray="1.4,1.4">
<line x1="1" y1="42" x2="13" y2="38.5"/>
<line x1="2" y1="38.8" x2="12" y2="35.8"/>
</g>
<g stroke="#9a9a9a" stroke-width="0.45">
<line x1="12" y1="37" x2="27" y2="32"/>
<line x1="12" y1="40" x2="26" y2="35"/>
</g>
<line x1="10" y1="46" x2="27" y2="37.5" stroke="#e0e0e0" stroke-width="0.9"/>
<path d="M28.5,37 Q24,50 21.5,64" stroke="#e8e8e8" stroke-width="1" fill="none"/>
<path d="M29.5,38 Q28.5,52 28.4,64" stroke="#eaeaea" stroke-width="2.6" fill="none"/>
<path d="M36,30 Q41,38 45,50 L45,64 L40,64 Z" fill="#0e0e0e"/>
<path d="M28.5,20 C26.5,24 25.5,30 26.5,38 L30.8,64 L44.9,64 C42,50 38.5,36 34.5,27 C33,23.5 31,20.5 28.5,20 Z" fill="#363636"/>
<g stroke="#070707" stroke-width="0.9" fill="none">
<path d="M29,23 Q29,40 33,64"/>
<path d="M31,24 Q34,40 38,64"/>
<path d="M33,28 Q38,42 42,62"/>
</g>
<path d="M27,23 L28.8,19.3 L31.5,21 L32.5,24.5 L27.5,25 Z" fill="#080808"/>
<g>
<rect x="0.4" y="45.8" width="17.9" height="17.7" fill="#c0c0c0"/>
<line x1="0.4" y1="48.6" x2="18.3" y2="57.2" stroke="#151515" stroke-width="1.3"/>
</g>
<rect x="0.4" y="45.8" width="17.9" height="17.7" fill="none" stroke="#dcb040" stroke-width="0.8"/>
<g>
<rect x="44.9" y="45.8" width="18.6" height="17.7" fill="#b8b8b8"/>
<polyline points="46.8,61.5 57,46.6 63.5,46.6" fill="none" stroke="#151515" stroke-width="1.6"/>
</g>
<rect x="44.9" y="45.8" width="18.6" height="17.7" fill="none" stroke="#e05050" stroke-width="0.8"/>
</svg></g></svg><svg x="238.5" y="4.1" width="63" height="62.6" viewBox="0 0 63 62.6" overflow="hidden"><g filter="url(#blur04)"><svg x="0" y="0" width="63" height="62.6" viewBox="0 0 64 64" preserveAspectRatio="none">
<rect width="64" height="64" fill="#8e8e8e"/>
<rect width="64" height="42" filter="url(#tex)" opacity="0.45"/>
<g filter="url(#blur1)" opacity="0.9">
<ellipse cx="7" cy="18" rx="6" ry="4" fill="#707070"/>
<ellipse cx="4" cy="4" rx="6" ry="4" fill="#7a7a7a"/>
<ellipse cx="52" cy="9" rx="9" ry="6" fill="#bcbcbc"/>
<ellipse cx="25" cy="5" rx="7" ry="4" fill="#a8a8a8"/>
<ellipse cx="12" cy="28" rx="9" ry="3" fill="#c8c8c8"/>
<ellipse cx="48" cy="22" rx="8" ry="3" fill="#d0d0d0"/>
<ellipse cx="58" cy="28" rx="5" ry="2" fill="#6a6a6a"/>
<ellipse cx="38" cy="18" rx="4" ry="3" fill="#c0c0c0"/>
</g>
<g fill="#d4d4d4" opacity="0.75" filter="url(#blur06)">
<path d="M2,26 Q8,21 16,24 Q12,28 4,29 Z"/>
<path d="M14,21 Q20,18 26,22 Q21,24 15,24 Z"/>
<path d="M40,13 Q46,9 53,13 Q48,15 42,15 Z"/>
<path d="M47,4 Q54,1 62,4 Q56,7 49,6 Z"/>
<path d="M36,21 Q44,17 53,20 Q46,23 38,23 Z"/>
<path d="M55,14 Q60,11 64,13 L64,17 Q59,17 55,16 Z"/>
</g>
<g fill="#5a5a5a" opacity="0.6" filter="url(#blur06)">
<ellipse cx="3" cy="12" rx="3" ry="2"/>
<ellipse cx="14" cy="9" rx="3" ry="1.5"/>
<ellipse cx="33" cy="8" rx="2.5" ry="2"/>
<ellipse cx="58" cy="22" rx="4" ry="1.5"/>
</g>
<line x1="6.2" y1="8.4" x2="28.5" y2="20.5" stroke="#1a1a1a" stroke-width="0.8"/>
<line x1="44.9" y1="0.4" x2="31.5" y2="21" stroke="#1a1a1a" stroke-width="0.8"/>
<ellipse cx="22.7" cy="11.6" rx="2" ry="1.3" fill="#eee" opacity="0.8"/>
<rect x="15.8" y="12.6" width="5" height="4.2" rx="1.2" fill="none" stroke="#d8a828" stroke-width="0.8"/>
<rect x="36.6" y="7.7" width="4.6" height="4.6" fill="none" stroke="#e04848" stroke-width="0.8"/>
<polygon points="35,28 63.5,18.8 63.5,36 43,36.5 38,33" fill="#0a0a0a"/>
<g stroke="#c4c4c4" stroke-width="0.5">
<line x1="41" y1="29.5" x2="64" y2="22.5"/>
<line x1="42" y1="32" x2="64" y2="26.5"/>
<line x1="44" y1="34.5" x2="64" y2="30.5"/>
<line x1="50" y1="35.8" x2="64" y2="34"/>
</g>
<polygon points="44,37 63.5,36.2 63.5,43.5 57,42" fill="#cdcdcd"/>
<path d="M38,33.5 Q50,37.5 62,45.5" fill="none" stroke="#0a0a0a" stroke-width="2"/>
<polygon points="-1,47 25,37 30,36 30.7,64 18.3,64 18.3,45.8" fill="#0c0c0c"/>
<polygon points="-1,35.5 27,29.5 29.5,33.5 25,37.5 -1,47" fill="#0a0a0a"/>
<g stroke="#d8d8d8" stroke-width="0.8" stroke-dasharray="1.4,1.4">
<line x1="1" y1="42" x2="13" y2="38.5"/>
<line x1="2" y1="38.8" x2="12" y2="35.8"/>
</g>
<g stroke="#9a9a9a" stroke-width="0.45">
<line x1="12" y1="37" x2="27" y2="32"/>
<line x1="12" y1="40" x2="26" y2="35"/>
</g>
<line x1="10" y1="46" x2="27" y2="37.5" stroke="#e0e0e0" stroke-width="0.9"/>
<path d="M28.5,37 Q24,50 21.5,64" stroke="#e8e8e8" stroke-width="1" fill="none"/>
<path d="M29.5,38 Q28.5,52 28.4,64" stroke="#eaeaea" stroke-width="2.6" fill="none"/>
<path d="M36,30 Q41,38 45,50 L45,64 L40,64 Z" fill="#0e0e0e"/>
<path d="M28.5,20 C26.5,24 25.5,30 26.5,38 L30.8,64 L44.9,64 C42,50 38.5,36 34.5,27 C33,23.5 31,20.5 28.5,20 Z" fill="#363636"/>
<g stroke="#070707" stroke-width="0.9" fill="none">
<path d="M29,23 Q29,40 33,64"/>
<path d="M31,24 Q34,40 38,64"/>
<path d="M33,28 Q38,42 42,62"/>
</g>
<path d="M27,23 L28.8,19.3 L31.5,21 L32.5,24.5 L27.5,25 Z" fill="#080808"/>
<g filter="url(#blur04)">
<rect x="0.4" y="45.8" width="17.9" height="17.7" fill="#c0c0c0"/>
<line x1="0.4" y1="48.6" x2="18.3" y2="57.2" stroke="#151515" stroke-width="1.3"/>
</g>
<rect x="0.4" y="45.8" width="17.9" height="17.7" fill="none" stroke="#dcb040" stroke-width="0.8"/>
<g filter="url(#blur04)">
<rect x="44.9" y="45.8" width="18.6" height="17.7" fill="#b8b8b8"/>
<polyline points="46.8,61.5 57,46.6 63.5,46.6" fill="none" stroke="#151515" stroke-width="1.6"/>
</g>
<rect x="44.9" y="45.8" width="18.6" height="17.7" fill="none" stroke="#e05050" stroke-width="0.8"/>
</svg></g></svg><svg x="398.2" y="3.8" width="63" height="62.9" viewBox="0 0 63 62.9" overflow="hidden"><g filter="url(#blur08)"><svg x="0" y="0" width="63" height="62.9" viewBox="0 0 64 64" preserveAspectRatio="none">
<rect width="64" height="64" fill="#8e8e8e"/>
<rect width="64" height="42" filter="url(#tex)" opacity="0.45"/>
<g filter="url(#blur1)" opacity="0.9">
<ellipse cx="7" cy="18" rx="6" ry="4" fill="#707070"/>
<ellipse cx="4" cy="4" rx="6" ry="4" fill="#7a7a7a"/>
<ellipse cx="52" cy="9" rx="9" ry="6" fill="#bcbcbc"/>
<ellipse cx="25" cy="5" rx="7" ry="4" fill="#a8a8a8"/>
<ellipse cx="12" cy="28" rx="9" ry="3" fill="#c8c8c8"/>
<ellipse cx="48" cy="22" rx="8" ry="3" fill="#d0d0d0"/>
<ellipse cx="58" cy="28" rx="5" ry="2" fill="#6a6a6a"/>
<ellipse cx="38" cy="18" rx="4" ry="3" fill="#c0c0c0"/>
</g>
<g fill="#d4d4d4" opacity="0.75" filter="url(#blur06)">
<path d="M2,26 Q8,21 16,24 Q12,28 4,29 Z"/>
<path d="M14,21 Q20,18 26,22 Q21,24 15,24 Z"/>
<path d="M40,13 Q46,9 53,13 Q48,15 42,15 Z"/>
<path d="M47,4 Q54,1 62,4 Q56,7 49,6 Z"/>
<path d="M36,21 Q44,17 53,20 Q46,23 38,23 Z"/>
<path d="M55,14 Q60,11 64,13 L64,17 Q59,17 55,16 Z"/>
</g>
<g fill="#5a5a5a" opacity="0.6" filter="url(#blur06)">
<ellipse cx="3" cy="12" rx="3" ry="2"/>
<ellipse cx="14" cy="9" rx="3" ry="1.5"/>
<ellipse cx="33" cy="8" rx="2.5" ry="2"/>
<ellipse cx="58" cy="22" rx="4" ry="1.5"/>
</g>
<line x1="6.2" y1="8.4" x2="28.5" y2="20.5" stroke="#1a1a1a" stroke-width="0.8"/>
<line x1="44.9" y1="0.4" x2="31.5" y2="21" stroke="#1a1a1a" stroke-width="0.8"/>
<ellipse cx="22.7" cy="11.6" rx="2" ry="1.3" fill="#eee" opacity="0.8"/>
<rect x="15.8" y="12.6" width="5" height="4.2" rx="1.2" fill="none" stroke="#d8a828" stroke-width="0.8"/>
<rect x="36.6" y="7.7" width="4.6" height="4.6" fill="none" stroke="#e04848" stroke-width="0.8"/>
<polygon points="35,28 63.5,18.8 63.5,36 43,36.5 38,33" fill="#0a0a0a"/>
<g stroke="#c4c4c4" stroke-width="0.5">
<line x1="41" y1="29.5" x2="64" y2="22.5"/>
<line x1="42" y1="32" x2="64" y2="26.5"/>
<line x1="44" y1="34.5" x2="64" y2="30.5"/>
<line x1="50" y1="35.8" x2="64" y2="34"/>
</g>
<polygon points="44,37 63.5,36.2 63.5,43.5 57,42" fill="#cdcdcd"/>
<path d="M38,33.5 Q50,37.5 62,45.5" fill="none" stroke="#0a0a0a" stroke-width="2"/>
<polygon points="-1,47 25,37 30,36 30.7,64 18.3,64 18.3,45.8" fill="#0c0c0c"/>
<polygon points="-1,35.5 27,29.5 29.5,33.5 25,37.5 -1,47" fill="#0a0a0a"/>
<g stroke="#d8d8d8" stroke-width="0.8" stroke-dasharray="1.4,1.4">
<line x1="1" y1="42" x2="13" y2="38.5"/>
<line x1="2" y1="38.8" x2="12" y2="35.8"/>
</g>
<g stroke="#9a9a9a" stroke-width="0.45">
<line x1="12" y1="37" x2="27" y2="32"/>
<line x1="12" y1="40" x2="26" y2="35"/>
</g>
<line x1="10" y1="46" x2="27" y2="37.5" stroke="#e0e0e0" stroke-width="0.9"/>
<path d="M28.5,37 Q24,50 21.5,64" stroke="#e8e8e8" stroke-width="1" fill="none"/>
<path d="M29.5,38 Q28.5,52 28.4,64" stroke="#eaeaea" stroke-width="2.6" fill="none"/>
<path d="M36,30 Q41,38 45,50 L45,64 L40,64 Z" fill="#0e0e0e"/>
<path d="M28.5,20 C26.5,24 25.5,30 26.5,38 L30.8,64 L44.9,64 C42,50 38.5,36 34.5,27 C33,23.5 31,20.5 28.5,20 Z" fill="#363636"/>
<g stroke="#070707" stroke-width="0.9" fill="none">
<path d="M29,23 Q29,40 33,64"/>
<path d="M31,24 Q34,40 38,64"/>
<path d="M33,28 Q38,42 42,62"/>
</g>
<path d="M27,23 L28.8,19.3 L31.5,21 L32.5,24.5 L27.5,25 Z" fill="#080808"/>
<g filter="url(#blurI)">
<rect x="0.4" y="45.8" width="17.9" height="17.7" fill="#c0c0c0"/>
<line x1="0.4" y1="48.6" x2="18.3" y2="57.2" stroke="#151515" stroke-width="1.3"/>
</g>
<rect x="0.4" y="45.8" width="17.9" height="17.7" fill="none" stroke="#dcb040" stroke-width="0.8"/>
<g filter="url(#blurI)">
<rect x="44.9" y="45.8" width="18.6" height="17.7" fill="#b8b8b8"/>
<polyline points="46.8,61.5 57,46.6 63.5,46.6" fill="none" stroke="#151515" stroke-width="1.6"/>
</g>
<rect x="44.9" y="45.8" width="18.6" height="17.7" fill="none" stroke="#e05050" stroke-width="0.8"/>
</svg></g></svg><svg x="557" y="5.2" width="63" height="62.4" viewBox="0 0 63 62.4" overflow="hidden"><g filter="url(#blur06)"><svg x="0" y="0" width="63" height="62.4" viewBox="0 0 64 64" preserveAspectRatio="none">
<rect width="64" height="64" fill="#8e8e8e"/>
<rect width="64" height="42" filter="url(#tex)" opacity="0.45"/>
<g filter="url(#blur1)" opacity="0.9">
<ellipse cx="7" cy="18" rx="6" ry="4" fill="#707070"/>
<ellipse cx="4" cy="4" rx="6" ry="4" fill="#7a7a7a"/>
<ellipse cx="52" cy="9" rx="9" ry="6" fill="#bcbcbc"/>
<ellipse cx="25" cy="5" rx="7" ry="4" fill="#a8a8a8"/>
<ellipse cx="12" cy="28" rx="9" ry="3" fill="#c8c8c8"/>
<ellipse cx="48" cy="22" rx="8" ry="3" fill="#d0d0d0"/>
<ellipse cx="58" cy="28" rx="5" ry="2" fill="#6a6a6a"/>
<ellipse cx="38" cy="18" rx="4" ry="3" fill="#c0c0c0"/>
</g>
<g fill="#d4d4d4" opacity="0.75" filter="url(#blur06)">
<path d="M2,26 Q8,21 16,24 Q12,28 4,29 Z"/>
<path d="M14,21 Q20,18 26,22 Q21,24 15,24 Z"/>
<path d="M40,13 Q46,9 53,13 Q48,15 42,15 Z"/>
<path d="M47,4 Q54,1 62,4 Q56,7 49,6 Z"/>
<path d="M36,21 Q44,17 53,20 Q46,23 38,23 Z"/>
<path d="M55,14 Q60,11 64,13 L64,17 Q59,17 55,16 Z"/>
</g>
<g fill="#5a5a5a" opacity="0.6" filter="url(#blur06)">
<ellipse cx="3" cy="12" rx="3" ry="2"/>
<ellipse cx="14" cy="9" rx="3" ry="1.5"/>
<ellipse cx="33" cy="8" rx="2.5" ry="2"/>
<ellipse cx="58" cy="22" rx="4" ry="1.5"/>
</g>
<line x1="6.2" y1="8.4" x2="28.5" y2="20.5" stroke="#1a1a1a" stroke-width="0.8"/>
<line x1="44.9" y1="0.4" x2="31.5" y2="21" stroke="#1a1a1a" stroke-width="0.8"/>
<ellipse cx="22.7" cy="11.6" rx="2" ry="1.3" fill="#eee" opacity="0.8"/>
<rect x="15.8" y="12.6" width="5" height="4.2" rx="1.2" fill="none" stroke="#d8a828" stroke-width="0.8"/>
<rect x="36.6" y="7.7" width="4.6" height="4.6" fill="none" stroke="#e04848" stroke-width="0.8"/>
<polygon points="35,28 63.5,18.8 63.5,36 43,36.5 38,33" fill="#0a0a0a"/>
<g stroke="#c4c4c4" stroke-width="0.5">
<line x1="41" y1="29.5" x2="64" y2="22.5"/>
<line x1="42" y1="32" x2="64" y2="26.5"/>
<line x1="44" y1="34.5" x2="64" y2="30.5"/>
<line x1="50" y1="35.8" x2="64" y2="34"/>
</g>
<polygon points="44,37 63.5,36.2 63.5,43.5 57,42" fill="#cdcdcd"/>
<path d="M38,33.5 Q50,37.5 62,45.5" fill="none" stroke="#0a0a0a" stroke-width="2"/>
<polygon points="-1,47 25,37 30,36 30.7,64 18.3,64 18.3,45.8" fill="#0c0c0c"/>
<polygon points="-1,35.5 27,29.5 29.5,33.5 25,37.5 -1,47" fill="#0a0a0a"/>
<g stroke="#d8d8d8" stroke-width="0.8" stroke-dasharray="1.4,1.4">
<line x1="1" y1="42" x2="13" y2="38.5"/>
<line x1="2" y1="38.8" x2="12" y2="35.8"/>
</g>
<g stroke="#9a9a9a" stroke-width="0.45">
<line x1="12" y1="37" x2="27" y2="32"/>
<line x1="12" y1="40" x2="26" y2="35"/>
</g>
<line x1="10" y1="46" x2="27" y2="37.5" stroke="#e0e0e0" stroke-width="0.9"/>
<path d="M28.5,37 Q24,50 21.5,64" stroke="#e8e8e8" stroke-width="1" fill="none"/>
<path d="M29.5,38 Q28.5,52 28.4,64" stroke="#eaeaea" stroke-width="2.6" fill="none"/>
<path d="M36,30 Q41,38 45,50 L45,64 L40,64 Z" fill="#0e0e0e"/>
<path d="M28.5,20 C26.5,24 25.5,30 26.5,38 L30.8,64 L44.9,64 C42,50 38.5,36 34.5,27 C33,23.5 31,20.5 28.5,20 Z" fill="#363636"/>
<g stroke="#070707" stroke-width="0.9" fill="none">
<path d="M29,23 Q29,40 33,64"/>
<path d="M31,24 Q34,40 38,64"/>
<path d="M33,28 Q38,42 42,62"/>
</g>
<path d="M27,23 L28.8,19.3 L31.5,21 L32.5,24.5 L27.5,25 Z" fill="#080808"/>
<g filter="url(#blur06)">
<rect x="0.4" y="45.8" width="17.9" height="17.7" fill="#c0c0c0"/>
<line x1="0.4" y1="48.6" x2="18.3" y2="57.2" stroke="#151515" stroke-width="1.3"/>
</g>
<rect x="0.4" y="45.8" width="17.9" height="17.7" fill="none" stroke="#dcb040" stroke-width="0.8"/>
<g filter="url(#blur06)">
<rect x="44.9" y="45.8" width="18.6" height="17.7" fill="#b8b8b8"/>
<polyline points="46.8,61.5 57,46.6 63.5,46.6" fill="none" stroke="#151515" stroke-width="1.6"/>
</g>
<rect x="44.9" y="45.8" width="18.6" height="17.7" fill="none" stroke="#e05050" stroke-width="0.8"/>
</svg></g></svg><svg x="163" y="3.5" width="63" height="63" viewBox="0 0 63 63" overflow="hidden"><g filter="url(#blur04)"><rect width="63" height="63" fill="#000"/><rect x="33.60" y="12.60" width="4.70" height="4.70" fill="rgb(8,8,8)"/><rect x="37.80" y="12.60" width="4.70" height="4.70" fill="rgb(9,9,9)"/><rect x="42.00" y="12.60" width="4.70" height="4.70" fill="rgb(4,4,4)"/><rect x="25.20" y="16.80" width="4.70" height="4.70" fill="rgb(7,7,7)"/><rect x="29.40" y="16.80" width="4.70" height="4.70" fill="rgb(25,25,25)"/><rect x="33.60" y="16.80" width="4.70" height="4.70" fill="rgb(42,42,42)"/><rect x="37.80" y="16.80" width="4.70" height="4.70" fill="rgb(33,33,33)"/><rect x="42.00" y="16.80" width="4.70" height="4.70" fill="rgb(12,12,12)"/><rect x="21.00" y="21.00" width="4.70" height="4.70" fill="rgb(6,6,6)"/><rect x="25.20" y="21.00" width="4.70" height="4.70" fill="rgb(35,35,35)"/><rect x="29.40" y="21.00" width="4.70" height="4.70" fill="rgb(93,93,93)"/><rect x="33.60" y="21.00" width="4.70" height="4.70" fill="rgb(116,116,116)"/><rect x="37.80" y="21.00" width="4.70" height="4.70" fill="rgb(69,69,69)"/><rect x="42.00" y="21.00" width="4.70" height="4.70" fill="rgb(19,19,19)"/><rect x="21.00" y="25.20" width="4.70" height="4.70" fill="rgb(25,25,25)"/><rect x="25.20" y="25.20" width="4.70" height="4.70" fill="rgb(105,105,105)"/><rect x="29.40" y="25.20" width="4.70" height="4.70" fill="rgb(205,205,205)"/><rect x="33.60" y="25.20" width="4.70" height="4.70" fill="rgb(191,191,191)"/><rect x="37.80" y="25.20" width="4.70" height="4.70" fill="rgb(84,84,84)"/><rect x="42.00" y="25.20" width="4.70" height="4.70" fill="rgb(17,17,17)"/><rect x="16.80" y="29.40" width="4.70" height="4.70" fill="rgb(9,9,9)"/><rect x="21.00" y="29.40" width="4.70" height="4.70" fill="rgb(60,60,60)"/><rect x="25.20" y="29.40" width="4.70" height="4.70" fill="rgb(184,184,184)"/><rect x="29.40" y="29.40" width="4.70" height="4.70" fill="rgb(255,255,255)"/><rect x="33.60" y="29.40" width="4.70" height="4.70" fill="rgb(184,184,184)"/><rect x="37.80" y="29.40" width="4.70" height="4.70" fill="rgb(60,60,60)"/><rect x="42.00" y="29.40" width="4.70" height="4.70" fill="rgb(9,9,9)"/><rect x="16.80" y="33.60" width="4.70" height="4.70" fill="rgb(17,17,17)"/><rect x="21.00" y="33.60" width="4.70" height="4.70" fill="rgb(84,84,84)"/><rect x="25.20" y="33.60" width="4.70" height="4.70" fill="rgb(191,191,191)"/><rect x="29.40" y="33.60" width="4.70" height="4.70" fill="rgb(205,205,205)"/><rect x="33.60" y="33.60" width="4.70" height="4.70" fill="rgb(105,105,105)"/><rect x="37.80" y="33.60" width="4.70" height="4.70" fill="rgb(25,25,25)"/><rect x="16.80" y="37.80" width="4.70" height="4.70" fill="rgb(19,19,19)"/><rect x="21.00" y="37.80" width="4.70" height="4.70" fill="rgb(69,69,69)"/><rect x="25.20" y="37.80" width="4.70" height="4.70" fill="rgb(116,116,116)"/><rect x="29.40" y="37.80" width="4.70" height="4.70" fill="rgb(93,93,93)"/><rect x="33.60" y="37.80" width="4.70" height="4.70" fill="rgb(35,35,35)"/><rect x="37.80" y="37.80" width="4.70" height="4.70" fill="rgb(6,6,6)"/><rect x="16.80" y="42.00" width="4.70" height="4.70" fill="rgb(12,12,12)"/><rect x="21.00" y="42.00" width="4.70" height="4.70" fill="rgb(33,33,33)"/><rect x="25.20" y="42.00" width="4.70" height="4.70" fill="rgb(42,42,42)"/><rect x="29.40" y="42.00" width="4.70" height="4.70" fill="rgb(25,25,25)"/><rect x="33.60" y="42.00" width="4.70" height="4.70" fill="rgb(7,7,7)"/><rect x="16.80" y="46.20" width="4.70" height="4.70" fill="rgb(4,4,4)"/><rect x="21.00" y="46.20" width="4.70" height="4.70" fill="rgb(9,9,9)"/><rect x="25.20" y="46.20" width="4.70" height="4.70" fill="rgb(8,8,8)"/></g></svg><svg x="324.5" y="3.5" width="63" height="63" viewBox="0 0 63 63" overflow="hidden"><g filter="url(#blur04)"><rect width="63" height="63" fill="#000"/><path d="M18.00,0.00h9.00v9.00h-9.00zM36.00,0.00h9.00v9.00h-9.00zM18.00,54.00h9.00v9.00h-9.00zM36.00,54.00h9.00v9.00h-9.00z" fill="rgb(70,70,70)"/><path d="M27.00,0.00h9.00v9.00h-9.00zM27.00,54.00h9.00v9.00h-9.00z" fill="rgb(125,125,125)"/><path d="M9.00,9.00h9.00v9.00h-9.00zM45.00,9.00h9.00v9.00h-9.00zM9.00,45.00h9.00v9.00h-9.00zM45.00,45.00h9.00v9.00h-9.00z" fill="rgb(175,175,175)"/><path d="M18.00,9.00h9.00v9.00h-9.00zM27.00,9.00h9.00v9.00h-9.00zM36.00,9.00h9.00v9.00h-9.00zM9.00,18.00h9.00v9.00h-9.00zM18.00,18.00h9.00v9.00h-9.00zM27.00,18.00h9.00v9.00h-9.00zM36.00,18.00h9.00v9.00h-9.00zM45.00,18.00h9.00v9.00h-9.00zM9.00,27.00h9.00v9.00h-9.00zM18.00,27.00h9.00v9.00h-9.00zM27.00,27.00h9.00v9.00h-9.00zM36.00,27.00h9.00v9.00h-9.00zM45.00,27.00h9.00v9.00h-9.00zM9.00,36.00h9.00v9.00h-9.00zM18.00,36.00h9.00v9.00h-9.00zM27.00,36.00h9.00v9.00h-9.00zM36.00,36.00h9.00v9.00h-9.00zM45.00,36.00h9.00v9.00h-9.00zM18.00,45.00h9.00v9.00h-9.00zM27.00,45.00h9.00v9.00h-9.00zM36.00,45.00h9.00v9.00h-9.00z" fill="rgb(255,255,255)"/><path d="M0.00,18.00h9.00v9.00h-9.00zM54.00,18.00h9.00v9.00h-9.00zM0.00,36.00h9.00v9.00h-9.00zM54.00,36.00h9.00v9.00h-9.00z" fill="rgb(75,75,75)"/><path d="M0.00,27.00h9.00v9.00h-9.00zM54.00,27.00h9.00v9.00h-9.00z" fill="rgb(130,130,130)"/></g></svg><svg x="484" y="3.5" width="63" height="63" viewBox="0 0 63 63" overflow="hidden"><g filter="url(#blur04)"><rect width="63" height="63" fill="#000"/><path d="M45.00,0.00h9.00v9.00h-9.00zM36.00,9.00h9.00v9.00h-9.00zM54.00,9.00h9.00v9.00h-9.00zM27.00,18.00h9.00v9.00h-9.00zM45.00,18.00h9.00v9.00h-9.00zM18.00,27.00h9.00v9.00h-9.00zM36.00,27.00h9.00v9.00h-9.00zM9.00,36.00h9.00v9.00h-9.00zM27.00,36.00h9.00v9.00h-9.00zM0.00,45.00h9.00v9.00h-9.00zM18.00,45.00h9.00v9.00h-9.00zM9.00,54.00h9.00v9.00h-9.00z" fill="rgb(70,70,70)"/><path d="M54.00,0.00h9.00v9.00h-9.00zM0.00,54.00h9.00v9.00h-9.00z" fill="rgb(200,200,200)"/><path d="M45.00,9.00h9.00v9.00h-9.00zM36.00,18.00h9.00v9.00h-9.00zM27.00,27.00h9.00v9.00h-9.00zM18.00,36.00h9.00v9.00h-9.00zM9.00,45.00h9.00v9.00h-9.00z" fill="rgb(255,255,255)"/></g></svg><svg x="79.5" y="70" width="63" height="62.5" viewBox="0 0 63 62.5" overflow="hidden"><rect width="63" height="62.5" fill="url(#gClean)"/><rect width="63" height="62.5" filter="url(#dnoise)" opacity="0.3"/><g stroke="#b0b0b0" stroke-width="0.55" opacity="0.35" mask="url(#mRay)"><line x1="-2.5" y1="31.2" x2="65.5" y2="31.2"/><line x1="31.5" y1="-2.8" x2="31.5" y2="65.2"/><line x1="15.5" y1="1.2" x2="47.5" y2="61.3"/><line x1="47.5" y1="1.2" x2="15.5" y2="61.3"/><line x1="2.7" y1="13.2" x2="60.3" y2="49.3"/><line x1="60.3" y1="13.2" x2="2.7" y2="49.3"/><line x1="24.4" y1="-2.0" x2="38.6" y2="64.5"/><line x1="-1.8" y1="24.2" x2="64.8" y2="38.3"/></g></svg><svg x="163" y="70" width="63" height="62.5" viewBox="0 0 63 62.5" overflow="hidden"><rect width="63" height="62.5" fill="#000"/><ellipse cx="0" cy="0" rx="26" ry="15" fill="url(#gEll)" transform="translate(31.5,31.25) rotate(32)"/></svg><svg x="238.5" y="70" width="63" height="62.5" viewBox="0 0 63 62.5" overflow="hidden"><rect width="63" height="62.5" fill="#000"/><ellipse cx="0" cy="0" rx="33" ry="24" fill="url(#gEll2)" transform="translate(31.5,31.25) rotate(32)"/><g stroke="#888" stroke-width="0.5" opacity="0.25"><line x1="1.5" y1="31.2" x2="61.5" y2="31.2"/><line x1="31.5" y1="1.2" x2="31.5" y2="61.2"/><line x1="16.5" y1="5.3" x2="46.5" y2="57.2"/><line x1="46.5" y1="5.3" x2="16.5" y2="57.2"/><line x1="6.9" y1="14.0" x2="56.1" y2="48.5"/><line x1="57.5" y1="16.2" x2="5.5" y2="46.2"/></g><rect width="63" height="62.5" filter="url(#dnoise)"/></svg><svg x="324.5" y="70" width="63" height="62.5" viewBox="0 0 63 62.5" overflow="hidden"><g transform="translate(31.5,31.25)"><rect x="-40" y="-40" width="80" height="80" fill="url(#gDisk)"/></g></svg><svg x="398.2" y="70" width="63" height="62.5" viewBox="0 0 63 62.5" overflow="hidden"><g transform="translate(31.5,31.25)"><rect x="-40" y="-40" width="80" height="80" fill="url(#gDisk2)"/></g><rect width="63" height="62.5" filter="url(#dnoise)"/><line x1="31.5" y1="0" x2="31.5" y2="62.5" stroke="#666" stroke-width="0.5" opacity="0.6"/><line x1="0" y1="31.25" x2="63" y2="31.25" stroke="#555" stroke-width="0.5" opacity="0.3"/></svg><svg x="484" y="70" width="63" height="62.5" viewBox="0 0 63 62.5" overflow="hidden"><rect width="63" height="62.5" fill="#000"/><g transform="translate(31.5,31.25) rotate(-45)"><rect x="-45" y="-45" width="90" height="90" fill="url(#gMot)" mask="url(#mMot)"/></g></svg><svg x="557" y="70" width="63" height="62.5" viewBox="0 0 63 62.5" overflow="hidden"><rect width="63" height="62.5" fill="#000"/><g transform="translate(31.5,31.25) rotate(-45)"><rect x="-45" y="-45" width="90" height="90" fill="url(#gMot2)" mask="url(#mMot)"/></g><ellipse cx="0" cy="0" rx="20" ry="8" fill="url(#gMC)" transform="translate(31.5,31.25) rotate(45)"/><rect width="63" height="62.5" filter="url(#dnoise)"/></svg><text x="21.3" y="15.7" font-family="'Liberation Serif', serif" font-size="14.3" font-weight="bold" fill="#000" text-anchor="start" stroke="#000" stroke-width="0.1">a.</text><g transform="translate(49.5,30.4) scale(0.945,1)"><text x="0" y="0" font-family="'Liberation Serif', serif" font-size="10.9" font-weight="bold" fill="#000" text-anchor="middle" stroke="#000" stroke-width="0.1">Spatial</text></g><g transform="translate(49.5,41.9) scale(0.945,1)"><text x="0" y="0" font-family="'Liberation Serif', serif" font-size="10.9" font-weight="bold" fill="#000" text-anchor="middle" stroke="#000" stroke-width="0.1">image</text></g><g transform="translate(49.9,98.9) scale(0.945,1)"><text x="0" y="0" font-family="'Liberation Serif', serif" font-size="10.9" font-weight="bold" fill="#000" text-anchor="middle" stroke="#000" stroke-width="0.1">Frequency</text></g><g transform="translate(49.9,111.8) scale(0.945,1)"><text x="0" y="0" font-family="'Liberation Serif', serif" font-size="10.9" font-weight="bold" fill="#000" text-anchor="middle" stroke="#000" stroke-width="0.1">spectrum</text></g><g transform="translate(110.6,144.2) scale(0.945,1)"><text x="0" y="0" font-family="'Liberation Serif', serif" font-size="10.9" font-weight="normal" fill="#000" text-anchor="middle" stroke="#000" stroke-width="0.1">Clean</text></g><g transform="translate(193.2,144.2) scale(0.945,1)"><text x="0" y="0" font-family="'Liberation Serif', serif" font-size="10.9" font-weight="normal" fill="#000" text-anchor="middle" stroke="#000" stroke-width="0.1">Gaussian kernel</text></g><g transform="translate(269.4,144.2) scale(0.945,1)"><text x="0" y="0" font-family="'Liberation Serif', serif" font-size="10.9" font-weight="normal" fill="#000" text-anchor="middle" stroke="#000" stroke-width="0.1">Gaussian blurred</text></g><g transform="translate(357.3,144.2) scale(0.945,1)"><text x="0" y="0" font-family="'Liberation Serif', serif" font-size="10.9" font-weight="normal" fill="#000" text-anchor="middle" stroke="#000" stroke-width="0.1">Disk kernel</text></g><g transform="translate(429.8,144.2) scale(0.945,1)"><text x="0" y="0" font-family="'Liberation Serif', serif" font-size="10.9" font-weight="normal" fill="#000" text-anchor="middle" stroke="#000" stroke-width="0.1">Disk blurred</text></g><g transform="translate(516.1,144.2) scale(0.945,1)"><text x="0" y="0" font-family="'Liberation Serif', serif" font-size="10.9" font-weight="normal" fill="#000" text-anchor="middle" stroke="#000" stroke-width="0.1">Motion kernel</text></g><g transform="translate(589.9,144.2) scale(0.945,1)"><text x="0" y="0" font-family="'Liberation Serif', serif" font-size="10.9" font-weight="normal" fill="#000" text-anchor="middle" stroke="#000" stroke-width="0.1">Motion blurred</text></g><text x="21" y="181" font-family="'Liberation Serif', serif" font-size="15.5" font-weight="bold" fill="#000" text-anchor="start" >b.</text><line x1="82" y1="232.9" x2="283" y2="232.9" stroke="#f05a5a" stroke-width="1.0" stroke-dasharray="1,1.1"/><line x1="82" y1="284.8" x2="283" y2="284.8" stroke="#6a6af0" stroke-width="1.0" stroke-dasharray="1,1.1"/><g fill="#0000ff"><circle cx="100.8" cy="273.5" r="1.95"/><circle cx="107.9" cy="275.5" r="1.95"/><circle cx="91.3" cy="280.4" r="1.95"/><circle cx="98.6" cy="279.6" r="1.95"/><circle cx="97" cy="283.3" r="1.95"/><circle cx="93.2" cy="286.1" r="1.95"/><circle cx="95.1" cy="290.9" r="1.95"/><circle cx="89.4" cy="294" r="1.95"/><circle cx="102.4" cy="288.6" r="1.95"/><circle cx="104.4" cy="293.5" r="1.95"/><circle cx="106.6" cy="292.1" r="1.95"/><circle cx="110.2" cy="294.7" r="1.95"/><circle cx="113.7" cy="280.4" r="1.95"/><circle cx="115.6" cy="284.8" r="1.95"/><circle cx="117.5" cy="277.4" r="1.95"/><circle cx="119.6" cy="279.6" r="1.95"/><circle cx="121.3" cy="282.1" r="1.95"/><circle cx="124.7" cy="280.8" r="1.95"/><circle cx="128.4" cy="288.1" r="1.95"/><circle cx="127.1" cy="290.9" r="1.95"/><circle cx="130.6" cy="282.5" r="1.95"/><circle cx="132.2" cy="278.3" r="1.95"/><circle cx="136" cy="292.1" r="1.95"/><circle cx="137.9" cy="284.6" r="1.95"/><circle cx="140.1" cy="280.8" r="1.95"/><circle cx="141.6" cy="286.7" r="1.95"/><circle cx="143.9" cy="290.9" r="1.95"/><circle cx="145.4" cy="279.8" r="1.95"/><circle cx="147.5" cy="265.7" r="1.95"/><circle cx="152.7" cy="261.6" r="1.95"/><circle cx="151.1" cy="294.3" r="1.95"/><circle cx="154.8" cy="283.7" r="1.95"/><circle cx="156.7" cy="277.6" r="1.95"/><circle cx="158.5" cy="289.4" r="1.95"/><circle cx="159.8" cy="280.8" r="1.95"/><circle cx="111.8" cy="299.1" r="1.95"/><circle cx="123.1" cy="296.7" r="1.95"/><circle cx="134.3" cy="309.5" r="1.95"/><circle cx="148.9" cy="295.7" r="1.95"/><circle cx="162.3" cy="292.8" r="1.95"/><circle cx="164.1" cy="286.7" r="1.95"/><circle cx="166.1" cy="279.6" r="1.95"/><circle cx="168" cy="287.1" r="1.95"/><circle cx="169.8" cy="283.7" r="1.95"/><circle cx="171.6" cy="281.2" r="1.95"/><circle cx="173.6" cy="283.7" r="1.95"/><circle cx="175.4" cy="286.5" r="1.95"/><circle cx="177.6" cy="288.1" r="1.95"/><circle cx="179.2" cy="283.7" r="1.95"/><circle cx="181.7" cy="283.3" r="1.95"/><circle cx="184.6" cy="282.5" r="1.95"/><circle cx="186.4" cy="283.7" r="1.95"/><circle cx="188.7" cy="285.2" r="1.95"/><circle cx="190.2" cy="292.5" r="1.95"/><circle cx="191.9" cy="272" r="1.95"/><circle cx="194" cy="281.2" r="1.95"/><circle cx="195.9" cy="278.7" r="1.95"/><circle cx="199.5" cy="292" r="1.95"/><circle cx="201.5" cy="287.1" r="1.95"/><circle cx="203.2" cy="266.1" r="1.95"/><circle cx="206.8" cy="288.7" r="1.95"/><circle cx="209.1" cy="285.5" r="1.95"/><circle cx="211" cy="284.6" r="1.95"/><circle cx="212.9" cy="283" r="1.95"/><circle cx="214.7" cy="271.1" r="1.95"/><circle cx="216.3" cy="278.9" r="1.95"/><circle cx="219.8" cy="291.5" r="1.95"/><circle cx="227.7" cy="286.9" r="1.95"/><circle cx="229.5" cy="277.9" r="1.95"/><circle cx="231.6" cy="277.9" r="1.95"/><circle cx="233" cy="290.6" r="1.95"/><circle cx="198.1" cy="294.8" r="1.95"/><circle cx="205.1" cy="295.7" r="1.95"/><circle cx="217.9" cy="297.3" r="1.95"/><circle cx="221.7" cy="297.6" r="1.95"/><circle cx="223.9" cy="297.3" r="1.95"/><circle cx="225.8" cy="307" r="1.95"/><circle cx="234.5" cy="297.8" r="1.95"/><circle cx="237" cy="289.4" r="1.95"/><circle cx="238.8" cy="277" r="1.95"/><circle cx="240.5" cy="280.8" r="1.95"/><circle cx="242.6" cy="290.3" r="1.95"/><circle cx="244.7" cy="273.6" r="1.95"/><circle cx="246.4" cy="286.5" r="1.95"/><circle cx="248.3" cy="293.1" r="1.95"/><circle cx="249.9" cy="273.3" r="1.95"/><circle cx="251.7" cy="286.1" r="1.95"/><circle cx="253.7" cy="277.9" r="1.95"/><circle cx="257.3" cy="271.1" r="1.95"/><circle cx="259.2" cy="283.1" r="1.95"/><circle cx="261.5" cy="271.6" r="1.95"/><circle cx="262.7" cy="277.9" r="1.95"/><circle cx="265" cy="286.1" r="1.95"/><circle cx="266.8" cy="279.2" r="1.95"/><circle cx="268.8" cy="289.6" r="1.95"/><circle cx="270.5" cy="287.1" r="1.95"/><circle cx="272.5" cy="273.6" r="1.95"/><circle cx="274.1" cy="283.3" r="1.95"/><circle cx="235.1" cy="297.6" r="1.95"/><circle cx="255.2" cy="298.2" r="1.95"/></g><g fill="#ff0000"><circle cx="154.8" cy="179.8" r="1.95"/><circle cx="145.2" cy="201.8" r="1.95"/><circle cx="134.1" cy="210.2" r="1.95"/><circle cx="111.8" cy="212.8" r="1.95"/><circle cx="97.2" cy="214.6" r="1.95"/><circle cx="93.2" cy="215.8" r="1.95"/><circle cx="89.8" cy="231" r="1.95"/><circle cx="91.3" cy="236.4" r="1.95"/><circle cx="94.8" cy="242.7" r="1.95"/><circle cx="98.6" cy="229.7" r="1.95"/><circle cx="100.5" cy="247.5" r="1.95"/><circle cx="104.5" cy="249" r="1.95"/><circle cx="106.7" cy="246.1" r="1.95"/><circle cx="108.3" cy="225.5" r="1.95"/><circle cx="110.2" cy="229.5" r="1.95"/><circle cx="113.7" cy="232.3" r="1.95"/><circle cx="115.6" cy="237" r="1.95"/><circle cx="117.5" cy="238.3" r="1.95"/><circle cx="119.2" cy="232.9" r="1.95"/><circle cx="121.3" cy="240.8" r="1.95"/><circle cx="123.4" cy="236.8" r="1.95"/><circle cx="126.9" cy="226.7" r="1.95"/><circle cx="128.4" cy="249.2" r="1.95"/><circle cx="130.7" cy="237.4" r="1.95"/><circle cx="132.6" cy="236.4" r="1.95"/><circle cx="136" cy="227.6" r="1.95"/><circle cx="140.1" cy="233.5" r="1.95"/><circle cx="141.6" cy="229.2" r="1.95"/><circle cx="143.8" cy="244.6" r="1.95"/><circle cx="147.5" cy="220.3" r="1.95"/><circle cx="149.2" cy="231.4" r="1.95"/><circle cx="151.1" cy="228.6" r="1.95"/><circle cx="153" cy="225.5" r="1.95"/><circle cx="156.7" cy="219.4" r="1.95"/><circle cx="158.6" cy="222.6" r="1.95"/><circle cx="159.5" cy="238.9" r="1.95"/><circle cx="219.8" cy="208.4" r="1.95"/><circle cx="232.7" cy="210.3" r="1.95"/><circle cx="167.8" cy="213.4" r="1.95"/><circle cx="188.3" cy="214" r="1.95"/><circle cx="208.8" cy="216.3" r="1.95"/><circle cx="162.3" cy="226" r="1.95"/><circle cx="164.4" cy="238.3" r="1.95"/><circle cx="166.1" cy="246.5" r="1.95"/><circle cx="169.5" cy="250.5" r="1.95"/><circle cx="171.7" cy="247.4" r="1.95"/><circle cx="173.2" cy="228.2" r="1.95"/><circle cx="175.1" cy="223.8" r="1.95"/><circle cx="177.6" cy="226.7" r="1.95"/><circle cx="178.9" cy="239.9" r="1.95"/><circle cx="181.2" cy="221.1" r="1.95"/><circle cx="184.8" cy="230.5" r="1.95"/><circle cx="186.4" cy="246.2" r="1.95"/><circle cx="190" cy="239.9" r="1.95"/><circle cx="192.1" cy="230.5" r="1.95"/><circle cx="195.9" cy="219.8" r="1.95"/><circle cx="197.8" cy="224.7" r="1.95"/><circle cx="199.3" cy="230.8" r="1.95"/><circle cx="201.5" cy="232.4" r="1.95"/><circle cx="203.2" cy="243.7" r="1.95"/><circle cx="205.3" cy="238.9" r="1.95"/><circle cx="211" cy="235.4" r="1.95"/><circle cx="212.9" cy="229.5" r="1.95"/><circle cx="215.4" cy="229.5" r="1.95"/><circle cx="218.5" cy="227.2" r="1.95"/><circle cx="221.7" cy="229.5" r="1.95"/><circle cx="225.7" cy="226" r="1.95"/><circle cx="227.7" cy="243.1" r="1.95"/><circle cx="229.5" cy="249.9" r="1.95"/><circle cx="231.1" cy="228.9" r="1.95"/><circle cx="234.2" cy="226.4" r="1.95"/><circle cx="257.3" cy="209.9" r="1.95"/><circle cx="272.4" cy="204.3" r="1.95"/><circle cx="235.7" cy="226.7" r="1.95"/><circle cx="237.3" cy="226.4" r="1.95"/><circle cx="240.5" cy="225.3" r="1.95"/><circle cx="238.8" cy="234.3" r="1.95"/><circle cx="242.6" cy="233.3" r="1.95"/><circle cx="244.5" cy="220.3" r="1.95"/><circle cx="246.1" cy="245.5" r="1.95"/><circle cx="249.9" cy="253.4" r="1.95"/><circle cx="251.8" cy="222.2" r="1.95"/><circle cx="253.7" cy="236.2" r="1.95"/><circle cx="255.6" cy="228.9" r="1.95"/><circle cx="259.2" cy="233" r="1.95"/><circle cx="261.2" cy="219.1" r="1.95"/><circle cx="265" cy="226" r="1.95"/><circle cx="266.8" cy="222.2" r="1.95"/><circle cx="274.1" cy="217.2" r="1.95"/><circle cx="268.6" cy="254.2" r="1.95"/><circle cx="102.4" cy="260.1" r="1.95"/><circle cx="124.9" cy="257.8" r="1.95"/><circle cx="137.9" cy="269.1" r="1.95"/><circle cx="194.2" cy="258.2" r="1.95"/><circle cx="206.8" cy="258.2" r="1.95"/><circle cx="223.6" cy="262" r="1.95"/><circle cx="182.7" cy="299.5" r="1.95"/><circle cx="248.3" cy="256" r="1.95"/><circle cx="263" cy="273.3" r="1.95"/></g><circle cx="216.6" cy="180.7" r="1.95" fill="#ff0000"/><circle cx="216.6" cy="189.7" r="1.95" fill="#0000ff"/><line x1="223.3" y1="180.7" x2="229.8" y2="180.7" stroke="#ff5050" stroke-width="1.1" stroke-dasharray="1.1,1.1"/><line x1="223.3" y1="189.7" x2="229.8" y2="189.7" stroke="#5050ff" stroke-width="1.1" stroke-dasharray="1.1,1.1"/><text x="272.6" y="182.8" font-family="'Liberation Serif', serif" font-size="8.1" font-weight="normal" fill="#222" text-anchor="middle" >Spatial domain</text><text x="272.5" y="192.6" font-family="'Liberation Serif', serif" font-size="8.0" font-weight="normal" fill="#222" text-anchor="middle" >Frequency domain</text><text x="252.7" y="246.5" font-family="'Liberation Serif', serif" font-size="6.0" font-weight="normal" fill="#c81818" text-anchor="start" stroke="#c81818" stroke-width="0.12">Average: 6.60</text><text x="257.5" y="301.4" font-family="'Liberation Serif', serif" font-size="6.0" font-weight="normal" fill="#1818d8" text-anchor="start" stroke="#1818d8" stroke-width="0.12">Average: 4.74</text><line x1="82.3" y1="316.3" x2="283" y2="316.3" stroke="#909090" stroke-width="0.9"/><line x1="87.50" y1="316.3" x2="87.50" y2="317.6" stroke="#909090" stroke-width="0.7"/><text x="88.30" y="326.0" font-family="'Liberation Serif', serif" font-size="8.1" font-weight="bold" fill="#000" text-anchor="middle" stroke="#000" stroke-width="0.1">0</text><line x1="124.86" y1="316.3" x2="124.86" y2="317.6" stroke="#909090" stroke-width="0.7"/><text x="125.66" y="326.0" font-family="'Liberation Serif', serif" font-size="8.1" font-weight="bold" fill="#000" text-anchor="middle" stroke="#000" stroke-width="0.1">20</text><line x1="162.22" y1="316.3" x2="162.22" y2="317.6" stroke="#909090" stroke-width="0.7"/><text x="163.02" y="326.0" font-family="'Liberation Serif', serif" font-size="8.1" font-weight="bold" fill="#000" text-anchor="middle" stroke="#000" stroke-width="0.1">40</text><line x1="199.58" y1="316.3" x2="199.58" y2="317.6" stroke="#909090" stroke-width="0.7"/><text x="200.38" y="326.0" font-family="'Liberation Serif', serif" font-size="8.1" font-weight="bold" fill="#000" text-anchor="middle" stroke="#000" stroke-width="0.1">60</text><line x1="236.94" y1="316.3" x2="236.94" y2="317.6" stroke="#909090" stroke-width="0.7"/><text x="237.74" y="326.0" font-family="'Liberation Serif', serif" font-size="8.1" font-weight="bold" fill="#000" text-anchor="middle" stroke="#000" stroke-width="0.1">80</text><line x1="274.30" y1="316.3" x2="274.30" y2="317.6" stroke="#909090" stroke-width="0.7"/><text x="275.10" y="326.0" font-family="'Liberation Serif', serif" font-size="8.1" font-weight="bold" fill="#000" text-anchor="middle" stroke="#000" stroke-width="0.1">100</text><text x="287.9" y="334.5" font-family="'Liberation Serif', serif" font-size="10.2" font-weight="normal" fill="#000" text-anchor="end" stroke="#000" stroke-width="0.15">Samples</text><text x="0" y="0" font-family="'Liberation Serif', serif" font-size="10.1" font-weight="normal" fill="#000" text-anchor="middle" stroke="#000" stroke-width="0.15" transform="translate(72.2,244.2) rotate(-90)">Feature distance</text><text x="316.5" y="180.3" font-family="'Liberation Serif', serif" font-size="15.4" font-weight="bold" fill="#000" text-anchor="start" >c.</text><line x1="360.3" y1="315.6" x2="568" y2="315.6" stroke="#909090" stroke-width="0.9"/><line x1="364.20" y1="315.6" x2="364.20" y2="316.9" stroke="#909090" stroke-width="0.7"/><text x="364.50" y="326.3" font-family="'Liberation Serif', serif" font-size="8.1" font-weight="bold" fill="#000" text-anchor="middle" stroke="#000" stroke-width="0.1">0</text><line x1="402.26" y1="315.6" x2="402.26" y2="316.9" stroke="#909090" stroke-width="0.7"/><text x="402.56" y="326.3" font-family="'Liberation Serif', serif" font-size="8.1" font-weight="bold" fill="#000" text-anchor="middle" stroke="#000" stroke-width="0.1">100</text><line x1="440.32" y1="315.6" x2="440.32" y2="316.9" stroke="#909090" stroke-width="0.7"/><text x="440.62" y="326.3" font-family="'Liberation Serif', serif" font-size="8.1" font-weight="bold" fill="#000" text-anchor="middle" stroke="#000" stroke-width="0.1">200</text><line x1="478.38" y1="315.6" x2="478.38" y2="316.9" stroke="#909090" stroke-width="0.7"/><text x="478.68" y="326.3" font-family="'Liberation Serif', serif" font-size="8.1" font-weight="bold" fill="#000" text-anchor="middle" stroke="#000" stroke-width="0.1">300</text><line x1="516.44" y1="315.6" x2="516.44" y2="316.9" stroke="#909090" stroke-width="0.7"/><text x="516.74" y="326.3" font-family="'Liberation Serif', serif" font-size="8.1" font-weight="bold" fill="#000" text-anchor="middle" stroke="#000" stroke-width="0.1">400</text><line x1="554.50" y1="315.6" x2="554.50" y2="316.9" stroke="#909090" stroke-width="0.7"/><text x="554.80" y="326.3" font-family="'Liberation Serif', serif" font-size="8.1" font-weight="bold" fill="#000" text-anchor="middle" stroke="#000" stroke-width="0.1">500</text><text x="560.3" y="335.9" font-family="'Liberation Serif', serif" font-size="10.36" font-weight="normal" fill="#000" text-anchor="end" stroke="#000" stroke-width="0.15">Coordinate x</text><text x="0" y="0" font-family="'Liberation Serif', serif" font-size="10.36" font-weight="normal" fill="#000" text-anchor="middle" stroke="#000" stroke-width="0.15" transform="translate(359.7,243.5) rotate(-90)">Sum of matrix[x,:]</text><polyline points="364.30,278.40 369.50,273.80 372.30,270.40 374.70,265.20 377.10,266.10 378.50,267.50 380.40,265.50 382.80,264.20 385.50,261.10 387.50,265.50 390.40,267.40 392.80,266.80 395.60,264.50 398.00,265.60 401.30,262.60 403.70,264.20 406.50,267.50 411.30,270.90 414.10,267.10 417.00,264.70 420.00,263.30 421.90,272.20 424.70,264.70 428.00,266.00 431.30,264.70 435.90,270.30 442.50,260.90 447.00,268.00 451.90,275.00 456.00,270.00 460.00,268.10 462.80,267.20 467.50,274.70 473.10,273.80 476.90,272.80 479.70,281.30 484.40,279.40 490.00,275.60 495.60,273.80 499.40,281.30 505.00,285.00 508.80,275.60 514.40,287.80 518.10,279.40 523.80,285.90 529.40,279.40 535.00,280.30 538.80,285.00 542.50,280.30 548.10,283.10 553.80,282.20 558.40,286.90" fill="none" stroke="#d2ca66" stroke-width="1.05" stroke-linejoin="round" opacity="1"/><polyline points="364.30,300.90 365.70,306.10 367.10,307.60 368.50,304.20 370.40,301.20 372.30,303.50 374.20,306.60 376.10,303.30 378.00,306.10 379.50,305.70 381.40,300.90 382.80,295.70 384.20,290.00 385.60,287.10 388.50,281.40 390.90,277.60 391.60,274.00 393.20,261.80 395.60,257.60 397.50,255.20 398.90,245.70 399.90,241.40 401.80,241.90 403.70,243.30 405.10,254.20 405.80,270.00 407.50,279.50 409.40,286.60 411.30,277.60 412.00,270.00 413.20,251.40 415.10,242.40 417.50,246.20 420.00,249.00 422.80,260.00 424.70,261.90 428.40,252.50 431.30,258.10 434.10,275.00 436.90,286.30 440.60,280.60 444.40,291.90 449.40,296.50 453.10,291.30 458.80,294.10 462.50,292.20 467.80,290.00 470.60,284.40 474.10,282.80 478.80,286.60 484.40,289.40 488.10,292.20 492.80,290.30 497.50,287.50 502.20,289.40 505.00,283.80 508.80,291.30 511.60,304.40 514.40,295.00 516.30,267.20 519.10,269.10 521.90,281.30 524.70,300.60 528.40,298.80 531.30,288.40 536.90,301.60 540.60,309.10 546.30,291.30 550.00,283.80 551.90,270.00 555.00,269.00 558.40,269.60" fill="none" stroke="#3a983a" stroke-width="1.1" stroke-linejoin="round" opacity="1"/><polyline points="376.60,197.20 376.60,293.70 378.00,297.50 380.40,298.80 382.30,300.80 384.00,298.60 386.60,297.20 389.00,298.40 392.30,300.00 395.00,299.30 399.90,299.60 404.00,299.00 408.00,299.80 413.20,298.60 417.00,298.50 425.00,299.00 440.00,298.80 572.00,298.80" fill="none" stroke="#8c8cff" stroke-width="1.1" stroke-linejoin="round" opacity="1"/><polyline points="364.30,301.20 365.30,301.20 366.30,301.20 367.30,301.20 368.30,301.20 369.30,301.20 370.30,301.20 371.30,301.20 372.30,301.20 373.30,301.20 374.30,301.20 375.30,301.20 376.30,301.20 377.30,301.20 378.30,301.20 379.30,301.20 380.30,301.20 381.30,301.20 382.30,301.20 383.30,301.20 384.30,301.20 385.30,301.19 386.30,301.19 387.30,301.19 388.30,301.19 389.30,301.19 390.30,301.18 391.30,301.18 392.30,301.17 393.30,301.16 394.30,301.15 395.30,301.14 396.30,301.13 397.30,301.11 398.30,301.09 399.30,301.07 400.30,301.04 401.30,301.00 402.30,300.96 403.30,300.91 404.30,300.85 405.30,300.77 406.30,300.69 407.30,300.59 408.30,300.47 409.30,300.33 410.30,300.17 411.30,299.98 412.30,299.76 413.30,299.51 414.30,299.23 415.30,298.90 416.30,298.53 417.30,298.11 418.30,297.63 419.30,297.09 420.30,296.49 421.30,295.81 422.30,295.06 423.30,294.23 424.30,293.31 425.30,292.30 426.30,291.19 427.30,289.98 428.30,288.67 429.30,287.25 430.30,285.72 431.30,284.08 432.30,282.32 433.30,280.46 434.30,278.49 435.30,276.41 436.30,274.23 437.30,271.96 438.30,269.60 439.30,267.16 440.30,264.66 441.30,262.10 442.30,259.50 443.30,256.87 444.30,254.23 445.30,251.60 446.30,248.99 447.30,246.43 448.30,243.94 449.30,241.52 450.30,239.21 451.30,237.02 452.30,234.98 453.30,233.09 454.30,231.38 455.30,229.87 456.30,228.56 457.30,227.47 458.30,226.62 459.30,226.00 460.30,225.62 461.30,225.50 462.30,225.62 463.30,226.00 464.30,226.62 465.30,227.47 466.30,228.56 467.30,229.87 468.30,231.38 469.30,233.09 470.30,234.98 471.30,237.02 472.30,239.21 473.30,241.52 474.30,243.94 475.30,246.43 476.30,248.99 477.30,251.60 478.30,254.23 479.30,256.87 480.30,259.50 481.30,262.10 482.30,264.66 483.30,267.16 484.30,269.60 485.30,271.96 486.30,274.23 487.30,276.41 488.30,278.49 489.30,280.46 490.30,282.32 491.30,284.08 492.30,285.72 493.30,287.25 494.30,288.67 495.30,289.98 496.30,291.19 497.30,292.30 498.30,293.31 499.30,294.23 500.30,295.06 501.30,295.81 502.30,296.49 503.30,297.09 504.30,297.63 505.30,298.11 506.30,298.53 507.30,298.90 508.30,299.23 509.30,299.51 510.30,299.76 511.30,299.98 512.30,300.17 513.30,300.33 514.30,300.47 515.30,300.59 516.30,300.69 517.30,300.77 518.30,300.85 519.30,300.91 520.30,300.96 521.30,301.00 522.30,301.04 523.30,301.07 524.30,301.09 525.30,301.11 526.30,301.13 527.30,301.14 528.30,301.15 529.30,301.16 530.30,301.17 531.30,301.18 532.30,301.18 533.30,301.19 534.30,301.19 535.30,301.19 536.30,301.19 537.30,301.19 538.30,301.20 539.30,301.20 540.30,301.20 541.30,301.20 542.30,301.20 543.30,301.20 544.30,301.20 545.30,301.20 546.30,301.20 547.30,301.20 548.30,301.20 549.30,301.20 550.30,301.20 551.30,301.20 552.30,301.20 553.30,301.20 554.30,301.20 555.30,301.20 556.30,301.20 557.30,301.20 558.30,301.20" fill="none" stroke="#333333" stroke-width="0.9" stroke-linejoin="round" opacity="1"/><polyline points="364.30,307.12 364.50,307.11 364.70,307.11 364.90,307.10 365.10,307.09 365.30,307.08 365.50,307.07 365.70,307.06 365.90,307.05 366.10,307.05 366.30,307.04 366.50,307.03 366.70,307.02 366.90,307.01 367.10,307.00 367.30,306.99 367.50,306.98 367.70,306.97 367.90,306.96 368.10,306.95 368.30,306.94 368.50,306.93 368.70,306.92 368.90,306.91 369.10,306.90 369.30,306.89 369.50,306.88 369.70,306.87 369.90,306.86 370.10,306.85 370.30,306.83 370.50,306.82 370.70,306.81 370.90,306.80 371.10,306.79 371.30,306.78 371.50,306.76 371.70,306.75 371.90,306.74 372.10,306.73 372.30,306.72 372.50,306.70 372.70,306.69 372.90,306.68 373.10,306.67 373.30,306.65 373.50,306.64 373.70,306.63 373.90,306.61 374.10,306.60 374.30,306.58 374.50,306.57 374.70,306.56 374.90,306.54 375.10,306.53 375.30,306.51 375.50,306.50 375.70,306.48 375.90,306.47 376.10,306.45 376.30,306.44 376.50,306.42 376.70,306.41 376.90,306.39 377.10,306.38 377.30,306.36 377.50,306.34 377.70,306.33 377.90,306.31 378.10,306.29 378.30,306.28 378.50,306.26 378.70,306.24 378.90,306.22 379.10,306.21 379.30,306.19 379.50,306.17 379.70,306.15 379.90,306.13 380.10,306.11 380.30,306.10 380.50,306.08 380.70,306.06 380.90,306.04 381.10,306.02 381.30,306.00 381.50,305.98 381.70,305.96 381.90,305.94 382.10,305.92 382.30,305.90 382.50,305.87 382.70,305.85 382.90,305.83 383.10,305.81 383.30,305.79 383.50,305.77 383.70,305.74 383.90,305.72 384.10,305.70 384.30,305.67 384.50,305.65 384.70,305.63 384.90,305.60 385.10,305.58 385.30,305.55 385.50,305.53 385.70,305.50 385.90,305.48 386.10,305.45 386.30,305.43 386.50,305.40 386.70,305.37 386.90,305.35 387.10,305.32 387.30,305.29 387.50,305.26 387.70,305.24 387.90,305.21 388.10,305.18 388.30,305.15 388.50,305.12 388.70,305.09 388.90,305.06 389.10,305.03 389.30,305.00 389.50,304.97 389.70,304.94 389.90,304.91 390.10,304.88 390.30,304.85 390.50,304.81 390.70,304.78 390.90,304.75 391.10,304.72 391.30,304.68 391.50,304.65 391.70,304.61 391.90,304.58 392.10,304.54 392.30,304.51 392.50,304.47 392.70,304.44 392.90,304.40 393.10,304.36 393.30,304.32 393.50,304.29 393.70,304.25 393.90,304.21 394.10,304.17 394.30,304.13 394.50,304.09 394.70,304.05 394.90,304.01 395.10,303.97 395.30,303.93 395.50,303.89 395.70,303.84 395.90,303.80 396.10,303.76 396.30,303.71 396.50,303.67 396.70,303.62 396.90,303.58 397.10,303.53 397.30,303.49 397.50,303.44 397.70,303.39 397.90,303.34 398.10,303.30 398.30,303.25 398.50,303.20 398.70,303.15 398.90,303.10 399.10,303.05 399.30,303.00 399.50,302.94 399.70,302.89 399.90,302.84 400.10,302.79 400.30,302.73 400.50,302.68 400.70,302.62 400.90,302.57 401.10,302.51 401.30,302.45 401.50,302.39 401.70,302.34 401.90,302.28 402.10,302.22 402.30,302.16 402.50,302.10 402.70,302.04 402.90,301.97 403.10,301.91 403.30,301.85 403.50,301.78 403.70,301.72 403.90,301.65 404.10,301.59 404.30,301.52 404.50,301.45 404.70,301.38 404.90,301.32 405.10,301.25 405.30,301.18 405.50,301.10 405.70,301.03 405.90,300.96 406.10,300.89 406.30,300.81 406.50,300.74 406.70,300.66 406.90,300.58 407.10,300.51 407.30,300.43 407.50,300.35 407.70,300.27 407.90,300.19 408.10,300.11 408.30,300.03 408.50,299.94 408.70,299.86 408.90,299.77 409.10,299.69 409.30,299.60 409.50,299.51 409.70,299.42 409.90,299.33 410.10,299.24 410.30,299.15 410.50,299.06 410.70,298.96 410.90,298.87 411.10,298.77 411.30,298.68 411.50,298.58 411.70,298.48 411.90,298.38 412.10,298.28 412.30,298.18 412.50,298.08 412.70,297.97 412.90,297.87 413.10,297.76 413.30,297.65 413.50,297.55 413.70,297.44 413.90,297.33 414.10,297.21 414.30,297.10 414.50,296.99 414.70,296.87 414.90,296.75 415.10,296.64 415.30,296.52 415.50,296.40 415.70,296.28 415.90,296.15 416.10,296.03 416.30,295.90 416.50,295.78 416.70,295.65 416.90,295.52 417.10,295.39 417.30,295.25 417.50,295.12 417.70,294.98 417.90,294.85 418.10,294.71 418.30,294.57 418.50,294.43 418.70,294.29 418.90,294.14 419.10,294.00 419.30,293.85 419.50,293.70 419.70,293.55 419.90,293.40 420.10,293.25 420.30,293.09 420.50,292.93 420.70,292.78 420.90,292.62 421.10,292.45 421.30,292.29 421.50,292.13 421.70,291.96 421.90,291.79 422.10,291.62 422.30,291.45 422.50,291.27 422.70,291.10 422.90,290.92 423.10,290.74 423.30,290.56 423.50,290.37 423.70,290.19 423.90,290.00 424.10,289.81 424.30,289.62 424.50,289.43 424.70,289.23 424.90,289.03 425.10,288.83 425.30,288.63 425.50,288.43 425.70,288.22 425.90,288.01 426.10,287.80 426.30,287.59 426.50,287.38 426.70,287.16 426.90,286.94 427.10,286.72 427.30,286.49 427.50,286.27 427.70,286.04 427.87,285.81 428.07,285.57 428.26,285.34 428.46,285.10 428.67,284.86 428.87,284.61 429.07,284.37 429.28,284.12 429.49,283.87 429.69,283.61 429.90,283.35 430.10,283.09 430.30,282.83 430.30,282.57 430.52,282.30 430.75,282.03 430.97,281.75 431.19,281.48 431.41,281.20 431.63,280.92 431.85,280.63 432.07,280.34 432.28,280.05 432.49,279.76 432.70,279.46 432.90,279.16 432.74,278.85 432.98,278.54 433.23,278.23 433.47,277.92 433.71,277.60 433.95,277.28 434.19,276.96 434.42,276.63 434.65,276.30 434.87,275.97 435.09,275.63 435.30,275.29 435.50,274.94 435.17,274.59 435.44,274.24 435.71,273.88 435.98,273.52 436.24,273.16 436.50,272.79 436.75,272.42 436.99,272.05 437.23,271.67 437.46,271.28 437.68,270.90 437.90,270.50 438.10,270.11 437.60,269.71 437.90,269.30 438.19,268.90 438.48,268.48 438.76,268.07 439.04,267.64 439.30,267.22 439.56,266.79 439.81,266.35 440.05,265.91 440.28,265.47 440.49,265.02 440.70,264.57 440.03,264.11 440.36,263.64 440.68,263.18 440.99,262.70 441.29,262.22 441.58,261.74 441.86,261.25 442.13,260.76 442.39,260.26 442.64,259.76 442.87,259.25 443.09,258.73 443.30,258.21 442.46,257.69 442.81,257.15 443.16,256.62 443.49,256.07 443.81,255.53 444.12,254.97 444.42,254.41 444.70,253.85 444.97,253.27 445.23,252.70 445.47,252.11 445.69,251.52 445.90,250.92 444.89,250.32 445.27,249.71 445.64,249.10 446.00,248.47 446.34,247.85 446.67,247.21 446.98,246.57 447.27,245.92 447.55,245.26 447.82,244.60 448.06,243.93 448.29,243.25 448.50,242.57 447.32,241.88 447.73,241.18 448.12,240.47 448.50,239.76 448.86,239.04 449.21,238.31 449.54,237.57 449.84,236.83 450.13,236.08 450.41,235.32 450.66,234.55 450.89,233.77 451.10,232.99 449.75,232.20 450.19,231.39 450.60,230.58 451.01,229.77 451.39,228.94 451.75,228.10 452.09,227.26 452.41,226.41 452.72,225.54 453.00,224.67 453.25,223.79 453.49,222.90 453.70,222.00 452.18,221.09 452.64,220.17 453.09,219.25 453.51,218.31 453.91,217.36 454.29,216.40 454.65,215.43 454.99,214.46 455.30,213.47 455.59,212.47 455.85,211.46 456.09,210.44 456.30,209.41 454.61,208.36 455.10,207.31 455.57,206.25 456.02,205.17 456.44,204.08 456.83,202.98 457.21,201.87 457.56,200.75 457.88,199.62 458.17,198.47 458.44,197.31 458.70,196.14 458.90,194.96 459.10,193.77 459.30,192.56 459.50,191.34 459.70,190.11 459.90,188.86 460.10,187.60 460.30,186.33 460.50,185.04 460.70,183.74 460.90,182.43 461.10,181.10 461.30,179.76 461.50,178.40 461.70,179.76 461.90,181.10 462.10,182.43 462.30,183.74 462.50,185.04 462.70,186.33 462.90,187.60 463.10,188.86 463.30,190.11 463.50,191.34 463.70,192.56 463.90,193.77 464.10,194.96 464.30,196.14 464.50,197.31 464.83,198.47 465.12,199.62 465.44,200.75 465.79,201.87 466.17,202.98 466.56,204.08 466.98,205.17 467.43,206.25 467.90,207.31 468.39,208.36 468.90,209.41 466.91,210.44 467.15,211.46 467.41,212.47 467.70,213.47 468.01,214.46 468.35,215.43 468.71,216.40 469.09,217.36 469.49,218.31 469.91,219.25 470.36,220.17 470.82,221.09 471.30,222.00 469.51,222.90 469.75,223.79 470.00,224.67 470.28,225.54 470.59,226.41 470.91,227.26 471.25,228.10 471.61,228.94 471.99,229.77 472.40,230.58 472.81,231.39 473.25,232.20 473.70,232.99 472.11,233.77 472.34,234.55 472.59,235.32 472.87,236.08 473.16,236.83 473.46,237.57 473.79,238.31 474.14,239.04 474.50,239.76 474.88,240.47 475.27,241.18 475.68,241.88 476.11,242.57 474.71,243.25 474.94,243.93 475.18,244.60 475.45,245.26 475.73,245.92 476.02,246.57 476.33,247.21 476.66,247.85 477.00,248.47 477.36,249.10 477.73,249.71 478.11,250.32 478.51,250.92 477.31,251.52 477.53,252.11 477.77,252.70 478.03,253.27 478.30,253.85 478.58,254.41 478.88,254.97 479.19,255.53 479.51,256.07 479.84,256.62 480.19,257.15 480.54,257.69 480.91,258.21 479.91,258.73 480.13,259.25 480.36,259.76 480.61,260.26 480.87,260.76 481.14,261.25 481.42,261.74 481.71,262.22 482.01,262.70 482.32,263.18 482.64,263.64 482.97,264.11 483.31,264.57 482.51,265.02 482.72,265.47 482.95,265.91 483.19,266.35 483.44,266.79 483.70,267.22 483.96,267.64 484.24,268.07 484.52,268.48 484.81,268.90 485.10,269.30 485.40,269.71 485.71,270.11 485.10,270.50 485.32,270.90 485.54,271.28 485.77,271.67 486.01,272.05 486.25,272.42 486.50,272.79 486.76,273.16 487.02,273.52 487.29,273.88 487.56,274.24 487.83,274.59 488.11,274.94 487.70,275.29 487.91,275.63 488.13,275.97 488.35,276.30 488.58,276.63 488.81,276.96 489.05,277.28 489.29,277.60 489.53,277.92 489.77,278.23 490.02,278.54 490.26,278.85 490.51,279.16 490.30,279.46 490.51,279.76 490.72,280.05 490.93,280.34 491.15,280.63 491.37,280.92 491.59,281.20 491.81,281.48 492.03,281.75 492.25,282.03 492.48,282.30 492.70,282.57 492.91,282.83 492.90,283.09 493.10,283.35 493.31,283.61 493.51,283.87 493.72,284.12 493.93,284.37 494.13,284.61 494.33,284.86 494.54,285.10 494.74,285.34 494.93,285.57 495.13,285.81 495.32,286.04 495.50,286.27 495.70,286.49 495.90,286.72 496.10,286.94 496.30,287.16 496.50,287.38 496.70,287.59 496.90,287.80 497.10,288.01 497.30,288.22 497.50,288.43 497.70,288.63 497.90,288.83 498.10,289.03 498.30,289.23 498.50,289.43 498.70,289.62 498.90,289.81 499.10,290.00 499.30,290.19 499.50,290.37 499.70,290.56 499.90,290.74 500.10,290.92 500.30,291.10 500.50,291.27 500.70,291.45 500.90,291.62 501.10,291.79 501.30,291.96 501.50,292.13 501.70,292.29 501.90,292.45 502.10,292.62 502.30,292.78 502.50,292.93 502.70,293.09 502.90,293.25 503.10,293.40 503.30,293.55 503.50,293.70 503.70,293.85 503.90,294.00 504.10,294.14 504.30,294.29 504.50,294.43 504.70,294.57 504.90,294.71 505.10,294.85 505.30,294.98 505.50,295.12 505.70,295.25 505.90,295.39 506.10,295.52 506.30,295.65 506.50,295.78 506.70,295.90 506.90,296.03 507.10,296.15 507.30,296.28 507.50,296.40 507.70,296.52 507.90,296.64 508.10,296.75 508.30,296.87 508.50,296.99 508.70,297.10 508.90,297.21 509.10,297.33 509.30,297.44 509.50,297.55 509.70,297.65 509.90,297.76 510.10,297.87 510.30,297.97 510.50,298.08 510.70,298.18 510.90,298.28 511.10,298.38 511.30,298.48 511.50,298.58 511.70,298.68 511.90,298.77 512.10,298.87 512.30,298.96 512.50,299.06 512.70,299.15 512.90,299.24 513.10,299.33 513.30,299.42 513.50,299.51 513.70,299.60 513.90,299.69 514.10,299.77 514.30,299.86 514.50,299.94 514.70,300.03 514.90,300.11 515.10,300.19 515.30,300.27 515.50,300.35 515.70,300.43 515.90,300.51 516.10,300.58 516.30,300.66 516.50,300.74 516.70,300.81 516.90,300.89 517.10,300.96 517.30,301.03 517.50,301.10 517.70,301.18 517.90,301.25 518.10,301.32 518.30,301.38 518.50,301.45 518.70,301.52 518.90,301.59 519.10,301.65 519.30,301.72 519.50,301.78 519.70,301.85 519.90,301.91 520.10,301.97 520.30,302.04 520.50,302.10 520.70,302.16 520.90,302.22 521.10,302.28 521.30,302.34 521.50,302.39 521.70,302.45 521.90,302.51 522.10,302.57 522.30,302.62 522.50,302.68 522.70,302.73 522.90,302.79 523.10,302.84 523.30,302.89 523.50,302.94 523.70,303.00 523.90,303.05 524.10,303.10 524.30,303.15 524.50,303.20 524.70,303.25 524.90,303.30 525.10,303.34 525.30,303.39 525.50,303.44 525.70,303.49 525.90,303.53 526.10,303.58 526.30,303.62 526.50,303.67 526.70,303.71 526.90,303.76 527.10,303.80 527.30,303.84 527.50,303.89 527.70,303.93 527.90,303.97 528.10,304.01 528.30,304.05 528.50,304.09 528.70,304.13 528.90,304.17 529.10,304.21 529.30,304.25 529.50,304.29 529.70,304.32 529.90,304.36 530.10,304.40 530.30,304.44 530.50,304.47 530.70,304.51 530.90,304.54 531.10,304.58 531.30,304.61 531.50,304.65 531.70,304.68 531.90,304.72 532.10,304.75 532.30,304.78 532.50,304.81 532.70,304.85 532.90,304.88 533.10,304.91 533.30,304.94 533.50,304.97 533.70,305.00 533.90,305.03 534.10,305.06 534.30,305.09 534.50,305.12 534.70,305.15 534.90,305.18 535.10,305.21 535.30,305.24 535.50,305.26 535.70,305.29 535.90,305.32 536.10,305.35 536.30,305.37 536.50,305.40 536.70,305.43 536.90,305.45 537.10,305.48 537.30,305.50 537.50,305.53 537.70,305.55 537.90,305.58 538.10,305.60 538.30,305.63 538.50,305.65 538.70,305.67 538.90,305.70 539.10,305.72 539.30,305.74 539.50,305.77 539.70,305.79 539.90,305.81 540.10,305.83 540.30,305.85 540.50,305.87 540.70,305.90 540.90,305.92 541.10,305.94 541.30,305.96 541.50,305.98 541.70,306.00 541.90,306.02 542.10,306.04 542.30,306.06 542.50,306.08 542.70,306.10 542.90,306.11 543.10,306.13 543.30,306.15 543.50,306.17 543.70,306.19 543.90,306.21 544.10,306.22 544.30,306.24 544.50,306.26 544.70,306.28 544.90,306.29 545.10,306.31 545.30,306.33 545.50,306.34 545.70,306.36 545.90,306.38 546.10,306.39 546.30,306.41 546.50,306.42 546.70,306.44 546.90,306.45 547.10,306.47 547.30,306.48 547.50,306.50 547.70,306.51 547.90,306.53 548.10,306.54 548.30,306.56 548.50,306.57 548.70,306.58 548.90,306.60 549.10,306.61 549.30,306.63 549.50,306.64 549.70,306.65 549.90,306.67 550.10,306.68 550.30,306.69 550.50,306.70 550.70,306.72 550.90,306.73 551.10,306.74 551.30,306.75 551.50,306.76 551.70,306.78 551.90,306.79 552.10,306.80 552.30,306.81 552.50,306.82 552.70,306.83 552.90,306.85 553.10,306.86 553.30,306.87 553.50,306.88 553.70,306.89 553.90,306.90 554.10,306.91 554.30,306.92 554.50,306.93 554.70,306.94 554.90,306.95 555.10,306.96 555.30,306.97 555.50,306.98 555.70,306.99 555.90,307.00 556.10,307.01 556.30,307.02 556.50,307.03 556.70,307.04 556.90,307.05 557.10,307.05 557.30,307.06 557.50,307.07 557.70,307.08 557.90,307.09 558.10,307.10 558.30,307.11" fill="none" stroke="#ff1515" stroke-width="1.05" stroke-linejoin="round" opacity="1"/><polyline points="457.20,204.00 458.30,194.00 459.30,195.00 460.30,188.00 461.50,178.70 462.70,188.00 463.70,195.00 464.70,194.00 465.80,204.00" fill="none" stroke="#ff1515" stroke-width="1.05" stroke-linejoin="round" opacity="1"/><line x1="527.1" y1="178.8" x2="541" y2="178.8" stroke="#222" stroke-width="1.2"/><text x="545.9" y="181.3" font-family="'Liberation Sans', sans-serif" font-size="7.0" font-weight="normal" fill="#333" text-anchor="start" >Kernel</text><line x1="527.1" y1="188.9" x2="541" y2="188.9" stroke="#1a8a1a" stroke-width="1.2"/><text x="545.9" y="191.4" font-family="'Liberation Sans', sans-serif" font-size="7.0" font-weight="normal" fill="#333" text-anchor="start" >RGB</text><line x1="527.1" y1="199.3" x2="541" y2="199.3" stroke="#ff2a2a" stroke-width="1.2"/><text x="545.9" y="201.8" font-family="'Liberation Sans', sans-serif" font-size="7.0" font-weight="normal" fill="#333" text-anchor="start" >FFT</text><line x1="527.1" y1="209.6" x2="541" y2="209.6" stroke="#1a1aff" stroke-width="1.2"/><text x="545.9" y="212.1" font-family="'Liberation Sans', sans-serif" font-size="7.0" font-weight="normal" fill="#333" text-anchor="start" >DCT</text><line x1="527.1" y1="219.7" x2="541" y2="219.7" stroke="#c8c050" stroke-width="1.2"/><text x="545.9" y="222.2" font-family="'Liberation Sans', sans-serif" font-size="7.0" font-weight="normal" fill="#333" text-anchor="start" >DWT</text><rect x="572" y="169.3" width="39.5" height="31" fill="#000"/><ellipse cx="0" cy="0" rx="8" ry="4" fill="url(#gK)" transform="translate(592.5,183.5) rotate(-28)"/><text x="583" y="198.5" font-family="'Liberation Sans', sans-serif" font-size="3.0" font-weight="normal" fill="#ddd" text-anchor="start" >Kernel</text><rect x="572" y="201.5" width="7.399999999999977" height="31.5" fill="#1a8a1a"/><rect x="572" y="234.2" width="7.399999999999977" height="31.19999999999999" fill="#ff0000"/><rect x="572" y="267.0" width="7.399999999999977" height="32.0" fill="#2222cc"/><rect x="572" y="301.2" width="7.399999999999977" height="31.80000000000001" fill="#ffb800"/><svg x="579.4" y="201.5" width="32.10000000000002" height="31.5" viewBox="0 0 32.10000000000002 31.5" overflow="hidden"><rect width="40" height="40" fill="#7c7c7c"/><rect width="40" height="40" filter="url(#sqtex)" opacity="0.35"/>
<g filter="url(#blur06)">
<ellipse cx="21" cy="14" rx="7" ry="10" fill="#9a9a9a" transform="rotate(15 21 14)"/>
<ellipse cx="12" cy="18" rx="6" ry="6" fill="#5a5a5a"/>
<ellipse cx="9" cy="11" rx="3.5" ry="3" fill="#4a4a4a"/>
<ellipse cx="15" cy="25" rx="5" ry="3" fill="#666"/>
</g>
<g fill="none" stroke="#262626" stroke-width="1.3" opacity="0.85" filter="url(#blur04)">
<path d="M20,3 Q30,4 30,14 Q29,23 22,26"/>
<path d="M22,8 Q27,13 24,20"/>
<path d="M5,10 Q8,7 12,9"/>
<path d="M11,22 Q14,27 10,30"/>
</g>
<rect width="40" height="40" filter="url(#dnoise)" opacity="0.5"/></svg><svg x="579.4" y="234.2" width="32.10000000000002" height="31.19999999999999" viewBox="0 0 32.10000000000002 31.19999999999999" overflow="hidden"><rect width="40" height="40" fill="url(#gF)"/><line x1="15.3" y1="0" x2="15.3" y2="31" stroke="#999" stroke-width="0.6" opacity="0.8"/><line x1="0" y1="16.8" x2="32" y2="16.8" stroke="#999" stroke-width="0.6" opacity="0.8"/><rect width="40" height="40" fill="#000" filter="url(#noise)" opacity="0.2"/></svg><text x="580.4" y="264.09999999999997" font-family="'Liberation Sans', sans-serif" font-size="3.2" font-weight="normal" fill="#bbb" text-anchor="start" >FFT</text><svg x="579.4" y="267.0" width="32.10000000000002" height="32.0" viewBox="0 0 32.10000000000002 32.0" overflow="hidden"><rect width="40" height="40" filter="url(#dcttex)"/><rect y="27" width="40" height="6" fill="#000" opacity="0.55"/></svg><text x="580.4" y="297.7" font-family="'Liberation Sans', sans-serif" font-size="3.2" font-weight="normal" fill="#bbb" text-anchor="start" >DCT</text><svg x="579.4" y="301.2" width="32.10000000000002" height="31.80000000000001" viewBox="0 0 32.10000000000002 31.80000000000001" overflow="hidden"><rect width="40" height="40" fill="#8e8e8e"/><rect width="40" height="40" filter="url(#sqtex)" opacity="0.3"/>
<g filter="url(#blur06)" opacity="0.75">
<path d="M18,8 Q26,10 25,20 Q23,28 17,27" fill="none" stroke="#333" stroke-width="2.2"/>
<ellipse cx="19" cy="18" rx="4" ry="6" fill="#3a3a3a" transform="rotate(20 19 18)"/>
<path d="M6,12 Q10,9 13,13 Q11,18 7,17" fill="none" stroke="#444" stroke-width="1.5"/>
</g></svg><text x="580.4" y="331.7" font-family="'Liberation Sans', sans-serif" font-size="3.2" font-weight="normal" fill="#ddd" text-anchor="start" >DWT</text><text x="1.25" y="364.4" font-family="'Liberation Serif', serif" font-size="16.5" font-weight="normal" fill="#000" text-anchor="start" >Figure</text><text x="50" y="364.4" font-family="'Liberation Serif', serif" font-size="16.5" font-weight="normal" fill="#000" text-anchor="start" >2:</text><text x="70" y="364.4" font-family="'Liberation Serif', serif" font-size="16.5" font-weight="normal" fill="#000" text-anchor="start" >(a)</text><text x="102" y="364.4" font-family="'Liberation Serif', serif" font-size="16.5" font-weight="normal" fill="#000" text-anchor="start" >Relationship</text><text x="192.3" y="364.4" font-family="'Liberation Serif', serif" font-size="16.5" font-weight="normal" fill="#000" text-anchor="start" >between</text><text x="307.5" y="364.4" font-family="'Liberation Serif', serif" font-size="16.5" font-weight="normal" fill="#000" text-anchor="start" >and</text><text x="368" y="364.4" font-family="'Liberation Serif', serif" font-size="16.5" font-weight="normal" fill="#000" text-anchor="start" >in</text><text x="386.9" y="364.4" font-family="'Liberation Serif', serif" font-size="16.5" font-weight="normal" fill="#000" text-anchor="start" >frequency</text><text x="457" y="364.4" font-family="'Liberation Serif', serif" font-size="16.5" font-weight="normal" fill="#000" text-anchor="start" >and</text><text x="488.4" y="364.4" font-family="'Liberation Serif', serif" font-size="16.5" font-weight="normal" fill="#000" text-anchor="start" >spatial</text><text x="537" y="364.4" font-family="'Liberation Serif', serif" font-size="16.5" font-weight="normal" fill="#000" text-anchor="start" >domain.</text><text x="599.4" y="364.4" font-family="'Liberation Serif', serif" font-size="16.5" font-weight="normal" fill="#000" text-anchor="start" >Fourier</text><text x="252.5" y="364.4" font-family="'Liberation Serif', serif" font-size="16.5" font-weight="bold">I</text><text x="337" y="364.4" font-family="'Liberation Serif', serif" font-size="16.5" font-weight="bold">I</text><text x="262" y="368" font-family="'Liberation Serif', serif" font-size="11" font-weight="normal" fill="#000" text-anchor="start" >cl</text><text x="291" y="364.4" font-family="'Liberation Serif', serif" font-size="16.5" font-weight="normal" fill="#000" text-anchor="start" >lk</text><text x="346" y="368" font-family="'Liberation Serif', serif" font-size="11" font-weight="normal" fill="#000" text-anchor="start" >b</text></svg></body></html>
